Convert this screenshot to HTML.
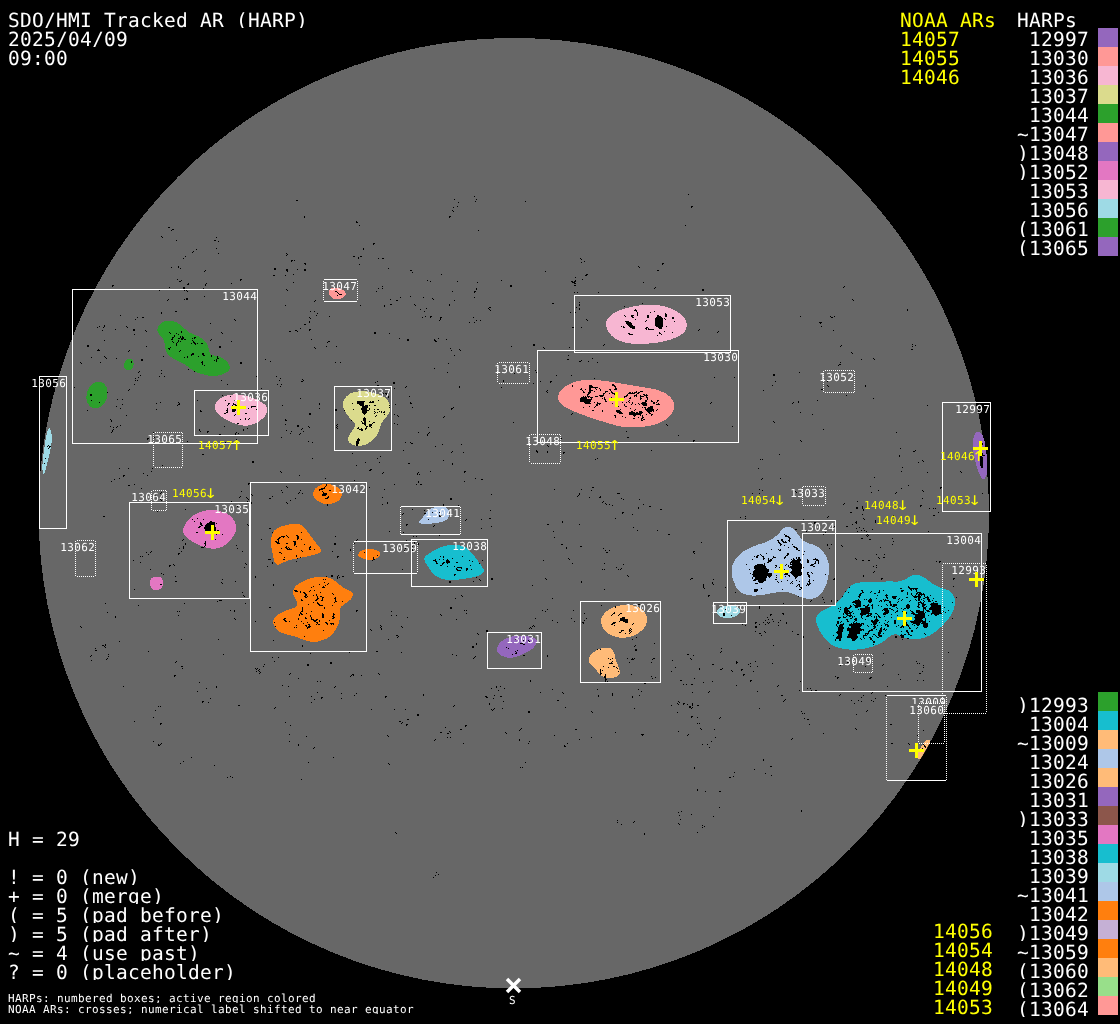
<!DOCTYPE html>
<html lang="en"><head><meta charset="utf-8">
<title>SDO/HMI Tracked AR (HARP) 2025/04/09 09:00</title>
<style>
html,body{margin:0;padding:0;background:#000;}
body{width:1120px;height:1024px;overflow:hidden;}
svg{display:block;}
text{font-family:'DejaVu Sans Mono','Liberation Mono',monospace;white-space:pre;text-rendering:geometricPrecision;}
.b{font-size:19.5px;letter-spacing:0.26px;fill:#fff;}
.s{font-size:11px;letter-spacing:0.378px;fill:#fff;}
.y{fill:#ff0;}
.a{font-family:'DejaVu Sans','Liberation Sans',sans-serif;font-size:13.5px;letter-spacing:0;fill:#ff0;}
.bx{fill:none;stroke:#fff;stroke-width:1;}
.dx{fill:none;stroke:#fff;stroke-width:1;stroke-dasharray:1 1;}
</style></head><body>
<svg width="1120" height="1024" viewBox="0 0 1120 1024">
<rect width="1120" height="1024" fill="#000"/>
<defs><filter id="t" filterUnits="userSpaceOnUse" x="0" y="0" width="1120" height="1024" color-interpolation-filters="sRGB"><feComponentTransfer><feFuncA type="table" tableValues="0 1"/></feComponentTransfer></filter></defs>
<defs><clipPath id="disc"><circle cx="513.8" cy="513.2" r="475.2"/></clipPath></defs>
<circle cx="513.8" cy="513.2" r="475.2" fill="#676767" shape-rendering="crispEdges"/>
<g shape-rendering="crispEdges">
<path fill="#2ca02c" d="M157.3 329.7C157.5 327.7 159.2 324.4 161.1 322.9C163.0 321.4 166.1 321.1 168.7 320.9C171.2 320.8 174.0 321.2 176.3 322.1C178.5 323.1 180.0 324.9 182.3 326.7C184.6 328.5 187.1 331.1 189.9 332.8C192.7 334.4 196.4 335.0 199.0 336.6C201.7 338.1 204.2 339.7 205.9 341.9C207.5 344.0 208.0 347.3 208.9 349.5C209.8 351.6 209.5 353.6 211.2 354.8C212.8 355.9 216.2 355.3 218.8 356.3C221.3 357.3 224.5 359.1 226.3 360.9C228.2 362.6 229.6 365.2 229.8 366.9C230.1 368.7 229.2 370.2 227.9 371.5C226.5 372.7 224.3 373.8 221.8 374.5C219.3 375.3 215.7 376.0 212.7 376.0C209.6 376.0 206.6 375.3 203.6 374.5C200.5 373.8 197.0 372.7 194.5 371.5C191.9 370.2 190.4 368.3 188.4 366.9C186.4 365.5 184.9 364.5 182.3 363.1C179.8 361.7 175.7 360.2 173.2 358.6C170.7 356.9 168.5 355.3 167.1 353.3C165.8 351.2 165.4 348.6 164.9 346.4C164.4 344.3 165.0 342.3 164.1 340.4C163.2 338.5 160.7 336.8 159.6 335.0C158.4 333.3 157.0 331.8 157.3 329.7Z"/>
<path fill="#2ca02c" d="M133.4 365.8C133.2 366.8 132.6 367.8 132.0 368.6C131.4 369.3 130.6 369.9 129.8 370.2C129.0 370.5 128.0 370.6 127.2 370.4C126.5 370.2 125.7 369.7 125.1 369.0C124.6 368.3 124.2 367.4 124.0 366.4C123.8 365.5 123.9 364.3 124.2 363.4C124.4 362.4 125.0 361.4 125.6 360.6C126.2 359.9 127.0 359.3 127.8 359.0C128.6 358.7 129.6 358.6 130.4 358.8C131.1 359.0 131.9 359.5 132.5 360.2C133.0 360.9 133.4 361.8 133.6 362.8C133.8 363.7 133.7 364.9 133.4 365.8Z"/>
<path fill="#2ca02c" d="M106.7 398.2C106.1 400.0 105.1 402.0 103.9 403.5C102.8 404.9 101.2 406.3 99.8 407.1C98.3 407.9 96.6 408.3 95.1 408.3C93.6 408.3 92.0 407.8 90.7 406.9C89.5 406.0 88.4 404.7 87.7 403.1C86.9 401.6 86.5 399.7 86.4 397.8C86.4 395.9 86.7 393.7 87.3 391.8C87.9 390.0 88.9 388.0 90.1 386.5C91.2 385.1 92.8 383.7 94.2 382.9C95.7 382.1 97.4 381.7 98.9 381.7C100.4 381.7 102.0 382.2 103.3 383.1C104.5 384.0 105.6 385.3 106.3 386.9C107.1 388.4 107.5 390.3 107.6 392.2C107.6 394.1 107.3 396.3 106.7 398.2Z"/>
<path fill="#f7b6d2" d="M214.8 407.3C214.8 405.6 215.3 403.4 216.5 401.7C217.8 400.0 219.9 398.4 222.1 397.3C224.4 396.1 227.5 395.3 230.2 394.9C232.9 394.4 235.5 394.3 238.2 394.5C240.9 394.7 243.6 395.4 246.3 396.1C248.9 396.7 251.6 397.4 254.3 398.5C257.0 399.6 260.3 401.2 262.3 402.5C264.3 403.8 265.5 405.3 266.3 406.5C267.2 407.7 267.4 408.3 267.3 409.7C267.2 411.2 266.6 413.6 265.5 415.4C264.4 417.1 262.6 418.8 260.7 420.2C258.8 421.6 256.7 422.9 254.3 423.8C251.9 424.7 248.9 425.7 246.3 425.8C243.6 425.9 240.9 425.3 238.2 424.6C235.5 423.9 232.9 423.1 230.2 421.8C227.5 420.5 224.4 418.6 222.1 417.0C219.9 415.4 217.8 413.8 216.5 412.1C215.3 410.5 214.8 409.1 214.8 407.3Z"/>
<path fill="#9edae5" clip-path="url(#disc)" d="M49.6 428.6C50.3 429.7 51.8 433.2 52.0 436.4C52.2 439.6 51.5 443.6 50.7 448.0C49.9 452.4 48.6 458.6 47.4 463.0C46.2 467.4 44.5 473.8 43.7 474.3C42.9 474.9 42.3 470.4 42.4 466.3C42.5 462.2 43.5 454.7 44.1 449.7C44.7 444.7 45.6 439.7 46.2 436.4C46.8 433.1 47.3 431.1 47.9 429.8C48.5 428.5 48.9 427.5 49.6 428.6Z"/>
<path fill="#ff9896" d="M328.8 292.5C328.6 291.2 329.1 290.0 329.9 289.3C330.6 288.5 331.9 288.2 333.5 288.1C335.0 287.9 337.5 288.0 339.1 288.3C340.7 288.7 342.0 289.3 343.1 290.1C344.3 290.9 345.7 292.4 345.9 293.3C346.2 294.2 345.6 294.8 344.7 295.7C343.9 296.6 342.3 298.0 340.7 298.5C339.1 299.1 336.7 299.4 335.1 299.1C333.5 298.8 332.1 298.0 331.1 296.9C330.0 295.8 329.0 293.8 328.8 292.5Z"/>
<path fill="#dbdb8d" d="M356.5 391.7C358.2 391.5 360.4 390.8 363.1 391.0C365.8 391.2 369.4 392.0 372.6 392.8C375.8 393.6 379.7 394.6 382.1 395.8C384.6 396.9 385.9 398.1 387.3 399.8C388.6 401.4 389.8 403.7 390.2 405.6C390.6 407.6 390.4 409.7 389.8 411.5C389.2 413.3 387.7 415.0 386.5 416.6C385.4 418.2 383.9 419.6 382.9 421.0C381.9 422.5 381.3 423.8 380.7 425.4C380.1 427.0 379.9 428.7 379.2 430.5C378.5 432.4 377.5 434.7 376.3 436.4C375.1 438.1 373.6 439.5 371.9 440.8C370.2 442.1 368.1 443.6 366.0 444.5C363.9 445.3 361.5 445.8 359.4 445.9C357.4 446.1 355.3 445.8 353.6 445.2C351.9 444.6 350.1 443.4 349.2 442.3C348.3 441.2 348.0 440.0 348.1 438.6C348.2 437.3 349.1 435.7 349.9 434.2C350.7 432.7 352.0 431.2 352.8 429.8C353.7 428.5 354.8 427.4 355.0 426.2C355.3 424.9 355.0 423.7 354.3 422.5C353.6 421.3 351.9 420.2 350.6 418.8C349.4 417.5 348.1 416.0 347.0 414.4C345.9 412.8 344.7 411.0 344.0 409.3C343.4 407.6 342.9 405.9 342.9 404.2C343.0 402.5 343.5 400.6 344.4 399.0C345.3 397.5 347.0 395.8 348.4 394.7C349.8 393.6 351.5 392.9 352.8 392.5C354.2 392.0 354.8 392.0 356.5 391.7Z"/>
<path fill="#f7b6d2" d="M606.0 324.5C605.8 322.2 606.5 320.5 607.8 318.6C609.0 316.7 611.2 314.7 613.7 313.2C616.1 311.6 619.1 310.4 622.5 309.2C625.9 308.1 630.4 307.0 634.3 306.3C638.2 305.6 642.2 305.0 646.1 304.8C650.0 304.6 654.3 304.7 657.9 305.1C661.5 305.5 664.6 306.3 667.7 307.3C670.8 308.3 673.9 309.7 676.5 311.2C679.2 312.8 681.7 314.6 683.4 316.6C685.1 318.7 686.5 321.2 686.8 323.5C687.2 325.8 686.4 328.4 685.4 330.4C684.3 332.3 682.8 333.8 680.5 335.3C678.2 336.7 675.1 338.1 671.6 339.2C668.2 340.4 664.1 341.4 659.8 342.2C655.6 342.9 650.3 343.5 646.1 343.8C641.8 344.1 638.1 344.1 634.3 343.8C630.5 343.5 626.8 343.1 623.5 342.2C620.2 341.2 617.1 339.9 614.6 338.2C612.2 336.6 610.2 334.6 608.8 332.3C607.3 330.0 606.2 326.8 606.0 324.5Z"/>
<path fill="#ff9896" d="M557.8 398.9C557.4 396.8 558.3 394.4 559.6 392.3C560.9 390.2 563.3 388.0 565.7 386.3C568.1 384.6 570.9 383.1 574.1 382.1C577.3 381.0 580.9 380.3 585.0 380.0C589.0 379.7 593.6 379.9 598.2 380.2C602.8 380.6 607.9 381.4 612.7 382.1C617.5 382.8 622.3 383.7 627.1 384.5C632.0 385.3 637.0 386.1 641.6 386.9C646.2 387.7 650.9 388.2 654.9 389.3C658.9 390.4 662.8 391.8 665.7 393.5C668.6 395.2 670.9 397.4 672.3 399.5C673.8 401.6 674.3 403.9 674.2 406.2C674.1 408.5 673.2 411.2 671.7 413.4C670.3 415.6 668.3 417.6 665.7 419.4C663.1 421.2 659.7 423.0 656.1 424.2C652.5 425.4 648.0 426.2 644.0 426.7C640.0 427.2 636.0 427.3 632.0 427.3C627.9 427.2 623.9 427.1 619.9 426.4C615.9 425.7 611.9 424.2 607.9 423.0C603.8 421.9 599.8 420.7 595.8 419.4C591.8 418.1 587.8 416.7 583.8 415.2C579.7 413.7 575.3 412.1 571.7 410.4C568.1 408.7 564.4 406.9 562.1 405.0C559.7 403.0 558.2 401.0 557.8 398.9Z"/>
<path fill="#9467bd" d="M977.8 432.0C978.9 432.1 980.9 432.5 982.0 434.1C983.2 435.7 983.8 438.4 984.5 441.4C985.2 444.5 985.8 448.8 986.3 452.4C986.8 456.1 987.2 459.9 987.3 463.4C987.4 466.9 987.3 470.7 986.9 473.2C986.6 475.6 985.8 477.2 985.1 478.1C984.4 479.0 983.6 479.3 982.6 478.7C981.7 478.1 980.6 476.5 979.6 474.4C978.6 472.3 977.5 468.9 976.5 465.9C975.6 462.8 974.7 459.3 974.1 456.1C973.5 452.8 973.0 449.4 972.9 446.3C972.8 443.3 973.1 439.9 973.5 437.8C973.9 435.6 974.6 434.4 975.3 433.5C976.0 432.5 976.6 431.9 977.8 432.0Z"/>
<path fill="#aec7e8" d="M788.1 526.7C789.8 526.8 792.0 527.6 793.7 529.0C795.3 530.3 796.6 532.7 798.1 534.5C799.6 536.4 800.7 538.6 802.6 540.1C804.4 541.6 807.1 542.5 809.3 543.5C811.5 544.4 813.9 544.7 816.0 545.7C818.0 546.7 819.9 547.8 821.6 549.6C823.2 551.4 824.8 553.9 826.0 556.3C827.2 558.7 828.4 561.3 828.8 564.1C829.3 566.9 829.1 570.1 828.8 573.0C828.5 576.0 828.1 579.0 827.1 582.0C826.2 584.9 824.7 588.5 823.2 590.9C821.7 593.3 820.2 595.1 818.2 596.5C816.3 597.8 813.9 598.6 811.5 598.9C809.1 599.2 806.1 598.7 803.7 598.1C801.3 597.6 799.4 596.3 797.0 595.4C794.6 594.4 791.8 593.1 789.2 592.6C786.6 592.0 784.2 591.9 781.4 592.0C778.6 592.1 775.4 592.7 772.5 593.1C769.5 593.6 766.7 594.4 763.5 594.8C760.4 595.2 756.6 595.7 753.5 595.6C750.3 595.5 747.2 595.2 744.6 594.2C741.9 593.3 739.6 591.8 737.9 589.8C736.1 587.7 735.0 584.8 734.0 582.0C732.9 579.2 731.9 576.0 731.7 573.0C731.5 570.1 731.8 566.9 732.8 564.1C733.9 561.3 735.9 558.5 737.9 556.3C739.8 554.1 741.9 552.4 744.6 550.7C747.2 549.0 750.3 547.6 753.5 546.2C756.6 544.9 760.4 544.1 763.5 542.9C766.7 541.7 769.9 540.7 772.5 539.0C775.1 537.3 777.3 534.6 779.2 532.9C781.0 531.1 782.1 529.4 783.6 528.4C785.1 527.4 786.4 526.6 788.1 526.7Z"/>
<path fill="#17becf" d="M917.9 574.7C920.0 575.1 922.6 576.4 925.0 577.9C927.4 579.3 929.5 581.9 932.1 583.6C934.8 585.2 937.9 586.7 940.7 587.9C943.6 589.0 947.0 589.2 949.3 590.7C951.5 592.3 953.3 594.9 954.3 597.1C955.2 599.4 955.4 601.7 955.0 604.3C954.6 606.9 953.6 610.0 952.1 612.9C950.7 615.7 948.6 618.8 946.4 621.4C944.3 624.0 941.9 626.3 939.3 628.6C936.7 630.8 933.8 633.3 930.7 635.0C927.6 636.7 924.0 637.9 920.7 638.6C917.4 639.3 913.8 639.5 910.7 639.3C907.6 639.0 904.5 638.0 902.1 637.1C899.8 636.3 898.3 634.5 896.4 634.3C894.5 634.0 892.9 634.5 890.7 635.7C888.6 636.9 886.2 639.8 883.6 641.4C881.0 643.1 878.1 644.5 875.0 645.7C871.9 646.9 868.6 647.9 865.0 648.6C861.4 649.2 857.4 649.7 853.6 649.7C849.8 649.7 845.7 649.4 842.1 648.6C838.6 647.8 835.2 646.9 832.1 645.0C829.0 643.1 826.0 640.1 823.6 637.1C821.2 634.2 819.1 630.2 817.9 627.1C816.6 624.0 815.9 621.0 816.1 618.6C816.4 616.2 817.6 614.5 819.3 612.9C821.0 611.2 823.8 610.0 826.4 608.6C829.0 607.1 832.4 606.2 835.0 604.3C837.6 602.4 840.0 599.8 842.1 597.1C844.3 594.5 845.7 590.8 847.9 588.6C850.0 586.3 852.1 584.6 855.0 583.6C857.9 582.5 861.4 582.4 865.0 582.1C868.6 581.9 872.6 582.3 876.4 582.1C880.2 582.0 884.0 581.5 887.9 581.4C891.7 581.3 896.2 581.9 899.3 581.4C902.4 581.0 904.3 579.6 906.4 578.6C908.6 577.6 910.2 576.1 912.1 575.4C914.0 574.8 915.7 574.3 917.9 574.7Z"/>
<path fill="#9edae5" d="M717.1 611.1C717.5 610.0 718.4 608.2 720.0 607.3C721.6 606.4 724.0 605.9 726.4 605.7C728.8 605.5 732.3 605.5 734.5 606.0C736.6 606.4 738.3 607.5 739.3 608.4C740.2 609.3 740.4 610.4 740.1 611.6C739.7 612.8 738.5 614.4 737.1 615.4C735.8 616.3 733.7 617.1 731.8 617.5C729.8 617.9 727.3 618.2 725.4 618.0C723.4 617.9 721.3 617.1 720.0 616.4C718.7 615.7 718.1 614.6 717.6 613.7C717.1 612.9 716.7 612.1 717.1 611.1Z"/>
<path fill="#ffbb78" clip-path="url(#disc)" d="M927.6 739.6C928.6 739.4 930.5 740.0 930.5 741.5C930.5 743.0 929.0 745.8 927.5 748.6C926.0 751.4 923.1 756.8 921.5 758.4C919.9 760.0 918.2 759.2 917.6 758.2C917.0 757.2 917.3 754.3 917.8 752.5C918.3 750.7 919.4 749.3 920.5 747.6C921.6 745.9 923.0 743.8 924.2 742.5C925.4 741.2 926.6 739.8 927.6 739.6Z"/>
<path fill="#e377c2" d="M183.0 531.0C182.9 528.9 184.0 526.3 185.4 524.0C186.7 521.7 188.8 519.0 191.2 517.1C193.5 515.1 196.4 513.6 199.3 512.4C202.2 511.3 205.5 510.4 208.6 510.1C211.7 509.8 214.8 510.1 217.9 510.7C221.0 511.3 224.6 512.2 227.1 513.6C229.7 514.9 231.5 516.9 233.0 518.8C234.4 520.7 235.4 523.1 235.9 525.2C236.3 527.2 236.3 529.0 235.9 531.0C235.4 532.9 234.2 534.9 233.0 536.8C231.7 538.7 230.0 540.9 228.3 542.6C226.6 544.2 224.6 545.6 222.5 546.7C220.4 547.7 217.9 548.4 215.5 548.6C213.2 548.9 211.1 548.7 208.6 548.2C206.1 547.6 203.2 546.6 200.4 545.5C197.7 544.4 194.7 542.9 192.3 541.4C189.9 540.0 187.5 538.5 185.9 536.8C184.4 535.0 183.1 533.1 183.0 531.0Z"/>
<path fill="#e377c2" d="M150.0 583.2C149.8 581.7 150.1 580.2 150.8 579.2C151.4 578.1 152.7 577.5 154.0 577.1C155.3 576.7 157.3 576.6 158.7 576.8C160.0 577.1 161.2 577.6 161.9 578.6C162.6 579.5 163.0 581.3 163.1 582.6C163.2 584.0 162.9 585.6 162.4 586.7C161.8 587.8 161.0 588.7 159.8 589.3C158.6 589.8 156.6 590.3 155.2 590.2C153.8 590.0 152.3 589.6 151.5 588.4C150.6 587.3 150.1 584.8 150.0 583.2Z"/>
<path fill="#ff7f0e" d="M312.7 494.0C312.9 492.5 314.1 490.0 315.4 488.5C316.8 487.0 318.7 485.7 320.8 484.9C322.9 484.2 325.7 483.9 328.1 484.0C330.5 484.2 333.2 484.8 335.3 485.8C337.4 486.9 339.6 488.8 340.7 490.3C341.8 491.9 342.4 493.2 342.1 494.9C341.8 496.5 340.6 498.8 338.9 500.3C337.2 501.7 334.1 502.9 331.7 503.5C329.3 504.1 326.7 504.3 324.5 503.9C322.2 503.5 319.8 502.2 318.1 501.2C316.5 500.1 315.4 498.8 314.5 497.6C313.6 496.4 312.6 495.5 312.7 494.0Z"/>
<path fill="#ff7f0e" d="M271.2 538.2C271.6 535.8 272.2 532.9 273.9 531.0C275.5 529.0 278.1 527.6 281.1 526.5C284.1 525.3 288.6 524.4 291.9 524.1C295.3 523.8 298.7 523.8 301.0 524.7C303.2 525.5 303.8 527.2 305.5 529.2C307.1 531.1 309.0 533.8 310.9 536.4C312.9 539.0 315.5 542.3 317.2 544.5C318.9 546.8 320.7 548.5 321.2 549.9C321.7 551.4 321.5 552.1 319.9 553.0C318.4 553.9 315.0 554.6 311.8 555.4C308.7 556.1 304.6 556.9 301.0 557.7C297.4 558.5 293.3 559.0 290.1 559.9C287.0 560.8 284.1 562.3 282.0 563.1C279.9 563.9 278.8 565.0 277.5 564.7C276.2 564.5 275.3 563.7 274.4 561.7C273.6 559.7 273.0 555.4 272.4 552.6C271.9 549.9 271.4 547.8 271.2 545.4C271.0 543.0 270.7 540.6 271.2 538.2Z"/>
<path fill="#ff7f0e" d="M320.8 576.5C323.8 576.5 327.2 576.9 329.9 577.9C332.6 578.9 334.8 580.8 337.1 582.4C339.3 584.1 341.3 586.5 343.4 587.9C345.5 589.2 348.1 589.5 349.7 590.6C351.3 591.6 352.8 592.7 353.0 594.2C353.1 595.7 352.1 597.9 350.6 599.6C349.2 601.2 346.1 602.6 344.3 604.1C342.5 605.6 340.6 606.7 339.8 608.6C339.0 610.6 340.0 613.4 339.8 615.8C339.6 618.3 339.6 620.7 338.9 623.1C338.1 625.5 336.8 628.0 335.3 630.3C333.8 632.5 332.0 635.0 329.9 636.6C327.8 638.3 325.4 639.3 322.6 640.2C319.9 641.1 316.6 642.0 313.6 642.0C310.6 642.0 307.6 641.1 304.6 640.2C301.6 639.3 298.9 637.7 295.6 636.6C292.2 635.6 287.7 635.0 284.7 633.9C281.7 632.8 279.3 631.8 277.5 630.3C275.7 628.8 274.6 626.5 273.9 624.9C273.1 623.2 272.4 622.0 273.0 620.4C273.6 618.7 275.2 616.6 277.5 614.9C279.8 613.3 283.7 611.6 286.5 610.4C289.4 609.2 292.9 608.9 294.7 607.7C296.5 606.5 297.4 604.9 297.4 603.2C297.4 601.5 295.4 599.6 294.7 597.8C293.9 596.0 292.7 594.3 292.9 592.4C293.0 590.4 293.9 587.9 295.6 586.1C297.2 584.2 300.1 582.9 302.8 581.5C305.5 580.2 308.8 578.8 311.8 577.9C314.8 577.1 317.8 576.5 320.8 576.5Z"/>
<path fill="#ff7f0e" d="M358.1 554.9C358.3 553.9 359.5 551.9 361.1 550.9C362.7 549.9 365.5 549.4 367.8 549.1C370.0 548.9 372.6 549.1 374.5 549.6C376.4 550.0 378.1 550.7 379.2 551.6C380.2 552.5 380.8 553.8 380.5 554.9C380.2 556.0 378.8 557.4 377.1 558.3C375.5 559.1 372.7 559.8 370.4 559.9C368.2 560.0 365.5 559.4 363.7 558.9C362.0 558.4 360.7 557.6 359.7 556.9C358.8 556.2 357.9 555.9 358.1 554.9Z"/>
<path fill="#aec7e8" d="M418.7 522.1C418.8 521.0 421.3 519.1 422.7 517.4C424.0 515.7 425.1 513.6 426.7 512.1C428.3 510.5 430.0 508.9 432.0 508.0C434.1 507.1 436.5 506.8 438.7 506.7C441.0 506.6 443.8 506.7 445.4 507.4C447.1 508.0 448.2 509.4 448.8 510.7C449.4 512.1 449.5 514.0 449.2 515.4C448.9 516.9 448.1 518.3 446.8 519.4C445.5 520.5 443.4 521.5 441.4 522.1C439.4 522.7 437.0 522.7 434.7 523.0C432.5 523.4 430.2 524.0 428.0 524.1C425.9 524.2 423.6 524.2 422.0 523.8C420.4 523.5 418.5 523.2 418.7 522.1Z"/>
<path fill="#17becf" d="M424.0 558.9C424.1 557.0 426.0 555.8 428.0 554.2C430.0 552.7 433.4 550.9 436.1 549.6C438.7 548.2 441.4 547.0 444.1 546.2C446.8 545.4 449.5 545.0 452.1 544.9C454.8 544.8 457.7 545.0 460.2 545.5C462.6 546.1 464.9 546.9 466.9 548.2C468.9 549.6 470.4 551.6 472.2 553.6C474.0 555.6 475.8 557.8 477.6 560.3C479.4 562.7 481.9 566.4 482.9 568.3C484.0 570.2 484.5 570.5 484.0 571.6C483.6 572.8 482.2 574.0 480.3 575.0C478.3 576.0 475.1 576.7 472.2 577.4C469.3 578.1 466.2 578.6 462.9 579.0C459.5 579.5 455.3 580.0 452.1 580.1C449.0 580.1 446.6 579.8 444.1 579.3C441.6 578.8 439.4 578.2 437.4 577.0C435.4 575.8 433.7 574.2 432.0 572.3C430.4 570.4 428.7 567.9 427.4 565.6C426.0 563.4 423.9 560.8 424.0 558.9Z"/>
<path fill="#9467bd" d="M497.0 649.3C497.1 647.6 498.1 645.1 499.5 643.3C500.9 641.6 503.0 640.0 505.4 638.8C507.8 637.6 510.8 636.7 513.9 636.2C517.0 635.7 521.0 635.5 524.1 635.7C527.2 635.9 530.5 636.6 532.6 637.4C534.7 638.3 536.4 639.4 536.8 640.8C537.3 642.2 536.4 644.2 535.1 645.9C533.9 647.6 531.6 649.4 529.2 651.0C526.8 652.5 523.5 654.1 520.7 655.2C517.9 656.4 514.9 657.5 512.2 657.8C509.5 658.0 506.9 657.6 504.6 656.9C502.3 656.2 499.9 654.8 498.7 653.5C497.4 652.3 496.8 651.0 497.0 649.3Z"/>
<path fill="#ffbb78" d="M600.8 622.1C600.5 619.6 601.6 617.5 603.0 615.4C604.3 613.2 606.5 611.0 608.9 609.4C611.3 607.9 614.3 606.8 617.4 606.0C620.5 605.3 624.2 604.7 627.6 604.8C631.0 605.0 634.9 605.7 637.8 606.9C640.6 608.1 643.0 610.0 644.5 612.0C646.1 613.9 646.9 616.3 647.1 618.7C647.2 621.2 646.7 624.1 645.4 626.4C644.1 628.6 641.9 630.6 639.5 632.3C637.1 634.0 634.1 635.7 631.0 636.6C627.9 637.5 623.9 637.9 620.8 637.7C617.7 637.6 615.0 636.9 612.3 635.7C609.6 634.5 606.6 632.9 604.7 630.6C602.8 628.4 601.1 624.7 600.8 622.1Z"/>
<path fill="#ffbb78" d="M588.6 660.3C588.8 658.8 589.7 656.1 591.1 654.4C592.5 652.7 594.9 651.2 597.0 650.1C599.2 649.1 601.6 648.2 603.8 647.9C606.1 647.6 608.9 647.6 610.6 648.4C612.3 649.2 613.2 650.8 614.0 652.7C614.9 654.5 615.0 657.2 615.7 659.5C616.4 661.7 617.5 664.1 618.3 666.2C619.0 668.4 620.1 670.5 619.9 672.2C619.8 673.9 619.0 675.4 617.4 676.4C615.8 677.4 612.9 678.0 610.6 678.1C608.4 678.3 605.8 678.1 603.8 677.3C601.9 676.4 600.4 674.7 598.7 673.0C597.0 671.3 595.1 668.6 593.7 667.1C592.2 665.5 590.8 664.8 589.9 663.7C589.1 662.6 588.4 661.9 588.6 660.3Z"/>
</g>
<path fill="#000" shape-rendering="crispEdges" d="M688 194h1v1h-1zM474 196h1v1h-1zM454 199h1v1h-1zM476 199h1v1h-1zM296 200h2v1h-2zM475 201h1v1h-1zM525 201h1v1h-1zM458 202h1v1h-1zM457 206h1v1h-1zM691 206h2v1h-2zM453 207h1v1h-1zM691 207h1v1h-1zM452 210h1v1h-1zM453 211h1v1h-1zM304 216h1v1h-1zM449 216h2v1h-2zM304 217h1v1h-1zM449 217h1v1h-1zM356 221h1v1h-1zM356 222h2v1h-2zM359 225h1v1h-1zM685 225h1v1h-1zM168 227h2v1h-2zM172 229h2v1h-2zM171 230h1v1h-1zM478 230h1v1h-1zM161 236h1v1h-1zM162 237h1v1h-1zM216 237h1v1h-1zM176 240h1v1h-1zM214 240h2v1h-2zM218 241h1v1h-1zM373 243h2v1h-2zM373 244h1v1h-1zM216 248h1v1h-1zM363 248h1v1h-1zM196 249h1v1h-1zM363 249h1v1h-1zM193 251h1v1h-1zM192 252h1v1h-1zM218 253h1v1h-1zM286 253h1v1h-1zM287 254h1v1h-1zM286 255h1v1h-1zM185 256h1v1h-1zM353 256h2v1h-2zM360 256h2v1h-2zM358 257h1v1h-1zM183 258h1v1h-1zM358 258h1v1h-1zM378 258h1v1h-1zM382 258h2v1h-2zM580 258h1v1h-1zM581 259h1v1h-1zM291 260h2v1h-2zM294 260h1v1h-1zM291 261h1v1h-1zM584 261h1v1h-1zM581 262h1v1h-1zM304 263h2v1h-2zM662 263h2v1h-2zM305 264h1v1h-1zM359 264h1v1h-1zM662 264h1v1h-1zM178 266h1v1h-1zM638 266h1v1h-1zM171 267h1v1h-1zM178 267h1v1h-1zM639 267h1v1h-1zM180 268h1v1h-1zM274 268h2v1h-2zM388 268h1v1h-1zM274 269h2v1h-2zM286 269h2v1h-2zM297 269h1v1h-1zM304 269h2v1h-2zM205 270h1v1h-1zM286 270h2v1h-2zM304 270h2v1h-2zM410 270h2v1h-2zM657 270h2v1h-2zM204 271h1v1h-1zM287 271h1v1h-1zM545 271h1v1h-1zM412 272h1v1h-1zM293 274h1v1h-1zM441 274h1v1h-1zM586 274h2v1h-2zM273 275h2v1h-2zM285 275h1v1h-1zM585 275h2v1h-2zM575 277h1v1h-1zM177 279h1v1h-1zM240 279h2v1h-2zM582 279h1v1h-1zM181 280h1v1h-1zM240 280h1v1h-1zM427 280h1v1h-1zM501 280h1v1h-1zM575 280h1v1h-1zM179 281h2v1h-2zM430 281h1v1h-1zM457 281h1v1h-1zM571 281h2v1h-2zM574 281h2v1h-2zM293 282h1v1h-1zM477 282h1v1h-1zM572 282h3v1h-3zM643 282h1v1h-1zM188 283h1v1h-1zM206 283h1v1h-1zM231 283h1v1h-1zM574 283h2v1h-2zM187 284h2v1h-2zM205 284h1v1h-1zM112 285h2v1h-2zM205 285h1v1h-1zM510 285h2v1h-2zM574 285h2v1h-2zM112 286h1v1h-1zM382 286h1v1h-1zM510 286h2v1h-2zM844 286h1v1h-1zM169 287h1v1h-1zM183 287h2v1h-2zM655 287h1v1h-1zM843 287h1v1h-1zM183 288h2v1h-2zM203 288h1v1h-1zM378 288h1v1h-1zM382 288h1v1h-1zM476 288h1v1h-1zM654 288h1v1h-1zM158 289h1v1h-1zM185 289h1v1h-1zM286 289h1v1h-1zM476 289h1v1h-1zM702 289h2v1h-2zM159 290h1v1h-1zM184 290h1v1h-1zM186 290h1v1h-1zM287 290h1v1h-1zM702 290h2v1h-2zM187 291h1v1h-1zM335 291h2v1h-2zM376 291h1v1h-1zM452 291h1v1h-1zM474 291h2v1h-2zM337 292h1v1h-1zM474 292h1v1h-1zM574 292h1v1h-1zM577 292h1v1h-1zM598 292h1v1h-1zM338 293h1v1h-1zM339 294h3v1h-3zM337 295h1v1h-1zM204 296h1v1h-1zM410 296h1v1h-1zM400 297h1v1h-1zM423 297h1v1h-1zM474 297h1v1h-1zM186 298h2v1h-2zM432 298h1v1h-1zM168 299h1v1h-1zM184 299h1v1h-1zM186 299h2v1h-2zM390 299h1v1h-1zM433 299h1v1h-1zM852 299h1v1h-1zM167 300h1v1h-1zM315 300h1v1h-1zM396 300h2v1h-2zM454 300h1v1h-1zM853 300h1v1h-1zM314 301h1v1h-1zM579 302h1v1h-1zM552 303h2v1h-2zM642 303h1v1h-1zM390 304h2v1h-2zM414 304h1v1h-1zM449 304h1v1h-1zM579 304h1v1h-1zM285 305h1v1h-1zM360 305h1v1h-1zM384 305h1v1h-1zM415 305h1v1h-1zM449 305h1v1h-1zM579 305h1v1h-1zM384 306h1v1h-1zM624 306h1v1h-1zM489 307h2v1h-2zM576 307h1v1h-1zM426 308h1v1h-1zM488 308h1v1h-1zM579 308h1v1h-1zM420 309h1v1h-1zM489 309h1v1h-1zM579 309h1v1h-1zM635 309h1v1h-1zM907 309h1v1h-1zM490 310h1v1h-1zM574 310h1v1h-1zM634 310h3v1h-3zM907 310h1v1h-1zM175 311h2v1h-2zM310 311h1v1h-1zM314 311h1v1h-1zM424 311h1v1h-1zM636 311h1v1h-1zM654 311h1v1h-1zM161 312h1v1h-1zM570 312h1v1h-1zM574 312h2v1h-2zM637 312h1v1h-1zM650 312h1v1h-1zM161 313h1v1h-1zM317 313h1v1h-1zM574 313h1v1h-1zM637 313h1v1h-1zM665 313h1v1h-1zM637 314h1v1h-1zM665 314h2v1h-2zM120 315h1v1h-1zM316 315h1v1h-1zM624 315h1v1h-1zM631 315h3v1h-3zM637 315h1v1h-1zM647 315h2v1h-2zM657 315h2v1h-2zM665 315h2v1h-2zM329 316h1v1h-1zM425 316h1v1h-1zM430 316h2v1h-2zM625 316h1v1h-1zM631 316h2v1h-2zM647 316h2v1h-2zM657 316h4v1h-4zM665 316h2v1h-2zM800 316h1v1h-1zM830 316h1v1h-1zM834 316h1v1h-1zM137 317h1v1h-1zM142 317h2v1h-2zM309 317h1v1h-1zM422 317h1v1h-1zM430 317h1v1h-1zM440 317h2v1h-2zM473 317h1v1h-1zM632 317h2v1h-2zM647 317h2v1h-2zM656 317h6v1h-6zM672 317h2v1h-2zM831 317h2v1h-2zM310 318h1v1h-1zM440 318h1v1h-1zM655 318h8v1h-8zM664 318h1v1h-1zM672 318h2v1h-2zM135 319h1v1h-1zM234 319h1v1h-1zM440 319h1v1h-1zM586 319h1v1h-1zM635 319h1v1h-1zM655 319h8v1h-8zM665 319h1v1h-1zM235 320h1v1h-1zM439 320h1v1h-1zM476 320h1v1h-1zM480 320h1v1h-1zM587 320h1v1h-1zM646 320h1v1h-1zM655 320h8v1h-8zM309 321h1v1h-1zM625 321h4v1h-4zM645 321h1v1h-1zM655 321h8v1h-8zM674 321h1v1h-1zM309 322h1v1h-1zM469 322h1v1h-1zM474 322h1v1h-1zM626 322h5v1h-5zM655 322h8v1h-8zM819 322h3v1h-3zM210 323h1v1h-1zM626 323h6v1h-6zM655 323h8v1h-8zM820 323h1v1h-1zM304 324h2v1h-2zM627 324h5v1h-5zM655 324h8v1h-8zM104 325h1v1h-1zM628 325h5v1h-5zM655 325h8v1h-8zM99 326h1v1h-1zM104 326h1v1h-1zM126 326h1v1h-1zM621 326h1v1h-1zM623 326h1v1h-1zM629 326h6v1h-6zM656 326h7v1h-7zM666 326h1v1h-1zM821 326h1v1h-1zM97 327h1v1h-1zM103 327h1v1h-1zM127 327h1v1h-1zM572 327h2v1h-2zM581 327h1v1h-1zM623 327h2v1h-2zM630 327h5v1h-5zM646 327h2v1h-2zM658 327h4v1h-4zM300 328h1v1h-1zM632 328h3v1h-3zM645 328h2v1h-2zM648 328h1v1h-1zM659 328h3v1h-3zM115 329h1v1h-1zM133 329h2v1h-2zM309 329h2v1h-2zM646 329h1v1h-1zM648 329h6v1h-6zM699 329h1v1h-1zM102 330h1v1h-1zM133 330h2v1h-2zM145 330h1v1h-1zM295 330h2v1h-2zM309 330h1v1h-1zM698 330h1v1h-1zM833 330h1v1h-1zM146 331h1v1h-1zM181 331h1v1h-1zM289 331h2v1h-2zM297 331h1v1h-1zM664 331h1v1h-1zM718 331h1v1h-1zM169 332h1v1h-1zM181 332h1v1h-1zM221 332h1v1h-1zM374 332h2v1h-2zM659 332h1v1h-1zM672 332h1v1h-1zM717 332h1v1h-1zM170 333h1v1h-1zM176 333h1v1h-1zM222 333h1v1h-1zM374 333h2v1h-2zM389 333h1v1h-1zM628 333h2v1h-2zM659 333h2v1h-2zM134 334h1v1h-1zM178 334h1v1h-1zM629 334h4v1h-4zM661 334h1v1h-1zM174 335h1v1h-1zM657 335h1v1h-1zM174 336h1v1h-1zM180 336h1v1h-1zM182 336h1v1h-1zM172 337h2v1h-2zM180 337h1v1h-1zM182 337h2v1h-2zM194 337h2v1h-2zM172 338h1v1h-1zM178 338h2v1h-2zM181 338h3v1h-3zM192 338h1v1h-1zM194 338h1v1h-1zM399 338h1v1h-1zM438 338h1v1h-1zM171 339h2v1h-2zM181 339h2v1h-2zM184 339h2v1h-2zM211 339h1v1h-1zM311 339h1v1h-1zM407 339h2v1h-2zM434 339h1v1h-1zM446 339h1v1h-1zM104 340h1v1h-1zM178 340h1v1h-1zM192 340h1v1h-1zM210 340h1v1h-1zM407 340h2v1h-2zM434 340h2v1h-2zM172 341h1v1h-1zM178 341h1v1h-1zM180 341h1v1h-1zM193 341h1v1h-1zM231 341h1v1h-1zM328 341h2v1h-2zM435 341h2v1h-2zM173 342h1v1h-1zM177 342h1v1h-1zM193 342h2v1h-2zM327 342h1v1h-1zM176 343h1v1h-1zM191 343h1v1h-1zM194 343h2v1h-2zM197 343h1v1h-1zM201 343h2v1h-2zM176 344h1v1h-1zM195 344h1v1h-1zM533 344h2v1h-2zM604 344h1v1h-1zM912 344h1v1h-1zM87 345h2v1h-2zM176 345h1v1h-1zM533 345h2v1h-2zM603 345h1v1h-1zM841 345h1v1h-1zM915 345h1v1h-1zM87 346h2v1h-2zM146 346h1v1h-1zM219 346h2v1h-2zM326 346h1v1h-1zM336 346h1v1h-1zM511 346h1v1h-1zM840 346h1v1h-1zM912 346h1v1h-1zM170 347h1v1h-1zM219 347h2v1h-2zM314 347h1v1h-1zM543 347h1v1h-1zM569 347h1v1h-1zM168 348h2v1h-2zM315 348h1v1h-1zM450 348h1v1h-1zM544 348h1v1h-1zM98 349h1v1h-1zM169 349h1v1h-1zM459 349h1v1h-1zM911 349h2v1h-2zM97 350h3v1h-3zM129 350h1v1h-1zM180 350h1v1h-1zM451 350h1v1h-1zM460 350h1v1h-1zM128 351h1v1h-1zM179 351h1v1h-1zM717 352h1v1h-1zM851 352h1v1h-1zM192 353h2v1h-2zM202 353h2v1h-2zM852 353h1v1h-1zM191 354h3v1h-3zM202 354h2v1h-2zM191 355h1v1h-1zM203 355h2v1h-2zM211 355h1v1h-1zM454 355h1v1h-1zM568 355h1v1h-1zM104 356h1v1h-1zM163 356h1v1h-1zM187 356h1v1h-1zM198 356h1v1h-1zM211 356h1v1h-1zM217 356h1v1h-1zM719 356h1v1h-1zM91 357h1v1h-1zM105 357h1v1h-1zM184 357h1v1h-1zM187 357h1v1h-1zM217 357h1v1h-1zM106 358h1v1h-1zM116 358h1v1h-1zM217 358h2v1h-2zM592 358h1v1h-1zM873 358h1v1h-1zM141 359h2v1h-2zM216 359h1v1h-1zM265 359h1v1h-1zM567 359h2v1h-2zM861 359h1v1h-1zM874 359h1v1h-1zM141 360h2v1h-2zM214 360h1v1h-1zM216 360h1v1h-1zM581 360h1v1h-1zM131 361h1v1h-1zM202 361h1v1h-1zM216 361h1v1h-1zM270 361h1v1h-1zM579 361h2v1h-2zM588 361h1v1h-1zM80 362h1v1h-1zM100 362h1v1h-1zM131 362h1v1h-1zM201 362h2v1h-2zM240 362h2v1h-2zM335 362h1v1h-1zM340 362h1v1h-1zM597 362h1v1h-1zM840 362h1v1h-1zM81 363h1v1h-1zM202 363h1v1h-1zM240 363h2v1h-2zM448 363h1v1h-1zM202 364h1v1h-1zM839 364h2v1h-2zM204 365h1v1h-1zM838 365h1v1h-1zM434 368h1v1h-1zM188 369h1v1h-1zM161 370h1v1h-1zM535 370h1v1h-1zM139 371h1v1h-1zM194 371h1v1h-1zM138 372h1v1h-1zM447 372h1v1h-1zM536 372h2v1h-2zM799 372h1v1h-1zM161 373h1v1h-1zM514 373h1v1h-1zM773 374h2v1h-2zM140 375h1v1h-1zM257 375h1v1h-1zM556 375h1v1h-1zM571 375h1v1h-1zM773 375h2v1h-2zM159 376h1v1h-1zM164 376h1v1h-1zM256 376h1v1h-1zM276 376h1v1h-1zM138 377h1v1h-1zM714 377h1v1h-1zM734 377h1v1h-1zM135 378h1v1h-1zM280 378h1v1h-1zM594 378h1v1h-1zM302 379h1v1h-1zM135 380h1v1h-1zM137 380h1v1h-1zM221 380h1v1h-1zM279 380h1v1h-1zM303 380h1v1h-1zM503 380h1v1h-1zM301 381h2v1h-2zM377 381h1v1h-1zM503 381h1v1h-1zM540 381h1v1h-1zM550 381h2v1h-2zM775 381h1v1h-1zM827 381h1v1h-1zM375 382h1v1h-1zM393 382h2v1h-2zM550 382h1v1h-1zM393 383h2v1h-2zM533 383h1v1h-1zM134 384h1v1h-1zM227 384h1v1h-1zM277 384h1v1h-1zM281 384h1v1h-1zM612 384h2v1h-2zM377 385h2v1h-2zM572 385h1v1h-1zM589 385h3v1h-3zM612 385h3v1h-3zM772 385h1v1h-1zM827 385h1v1h-1zM865 385h1v1h-1zM280 386h1v1h-1zM406 386h1v1h-1zM459 386h1v1h-1zM572 386h1v1h-1zM589 386h4v1h-4zM614 386h2v1h-2zM828 386h1v1h-1zM865 386h1v1h-1zM74 387h1v1h-1zM405 387h1v1h-1zM459 387h1v1h-1zM501 387h1v1h-1zM589 387h9v1h-9zM615 387h1v1h-1zM261 388h1v1h-1zM394 388h1v1h-1zM581 388h1v1h-1zM589 388h2v1h-2zM595 388h1v1h-1zM599 388h1v1h-1zM615 388h2v1h-2zM129 389h1v1h-1zM379 389h1v1h-1zM580 389h2v1h-2zM585 389h1v1h-1zM589 389h2v1h-2zM596 389h1v1h-1zM600 389h1v1h-1zM609 389h2v1h-2zM614 389h3v1h-3zM821 389h2v1h-2zM128 390h1v1h-1zM547 390h1v1h-1zM582 390h1v1h-1zM589 390h4v1h-4zM600 390h1v1h-1zM610 390h1v1h-1zM763 390h1v1h-1zM546 391h1v1h-1zM583 391h1v1h-1zM589 391h2v1h-2zM594 391h1v1h-1zM605 391h3v1h-3zM611 391h1v1h-1zM636 391h1v1h-1zM640 391h3v1h-3zM107 392h1v1h-1zM547 392h1v1h-1zM583 392h2v1h-2zM588 392h3v1h-3zM605 392h1v1h-1zM611 392h2v1h-2zM629 392h2v1h-2zM632 392h1v1h-1zM634 392h3v1h-3zM638 392h2v1h-2zM383 393h1v1h-1zM385 393h4v1h-4zM588 393h2v1h-2zM603 393h2v1h-2zM609 393h1v1h-1zM612 393h5v1h-5zM628 393h7v1h-7zM637 393h2v1h-2zM90 394h2v1h-2zM386 394h1v1h-1zM587 394h2v1h-2zM603 394h1v1h-1zM614 394h2v1h-2zM627 394h1v1h-1zM636 394h1v1h-1zM643 394h2v1h-2zM646 394h1v1h-1zM90 395h2v1h-2zM222 395h1v1h-1zM587 395h1v1h-1zM599 395h5v1h-5zM626 395h2v1h-2zM634 395h3v1h-3zM640 395h1v1h-1zM644 395h4v1h-4zM846 395h1v1h-1zM230 396h1v1h-1zM388 396h1v1h-1zM409 396h1v1h-1zM583 396h1v1h-1zM585 396h1v1h-1zM587 396h3v1h-3zM595 396h3v1h-3zM600 396h3v1h-3zM624 396h3v1h-3zM634 396h1v1h-1zM636 396h1v1h-1zM640 396h4v1h-4zM646 396h1v1h-1zM388 397h1v1h-1zM581 397h6v1h-6zM588 397h1v1h-1zM590 397h3v1h-3zM604 397h1v1h-1zM611 397h1v1h-1zM624 397h1v1h-1zM630 397h1v1h-1zM640 397h1v1h-1zM646 397h2v1h-2zM300 398h1v1h-1zM580 398h7v1h-7zM591 398h1v1h-1zM602 398h1v1h-1zM604 398h1v1h-1zM621 398h3v1h-3zM629 398h2v1h-2zM640 398h2v1h-2zM647 398h1v1h-1zM873 398h1v1h-1zM117 399h1v1h-1zM122 399h1v1h-1zM580 399h12v1h-12zM604 399h2v1h-2zM640 399h1v1h-1zM647 399h1v1h-1zM91 400h1v1h-1zM197 400h1v1h-1zM225 400h1v1h-1zM234 400h1v1h-1zM238 400h1v1h-1zM378 400h1v1h-1zM580 400h11v1h-11zM605 400h1v1h-1zM629 400h1v1h-1zM645 400h2v1h-2zM651 400h1v1h-1zM657 400h2v1h-2zM817 400h1v1h-1zM357 401h8v1h-8zM370 401h1v1h-1zM372 401h2v1h-2zM580 401h11v1h-11zM605 401h2v1h-2zM628 401h1v1h-1zM645 401h2v1h-2zM651 401h2v1h-2zM657 401h1v1h-1zM798 401h1v1h-1zM99 402h1v1h-1zM160 402h1v1h-1zM178 402h1v1h-1zM357 402h7v1h-7zM369 402h5v1h-5zM410 402h1v1h-1zM584 402h6v1h-6zM594 402h1v1h-1zM597 402h1v1h-1zM622 402h1v1h-1zM626 402h1v1h-1zM629 402h1v1h-1zM632 402h1v1h-1zM642 402h4v1h-4zM653 402h2v1h-2zM656 402h1v1h-1zM711 402h1v1h-1zM793 402h1v1h-1zM798 402h1v1h-1zM156 403h1v1h-1zM179 403h1v1h-1zM228 403h2v1h-2zM233 403h1v1h-1zM319 403h1v1h-1zM352 403h1v1h-1zM357 403h7v1h-7zM410 403h2v1h-2zM585 403h6v1h-6zM597 403h4v1h-4zM612 403h1v1h-1zM632 403h1v1h-1zM638 403h1v1h-1zM641 403h6v1h-6zM653 403h2v1h-2zM658 403h1v1h-1zM710 403h1v1h-1zM792 403h1v1h-1zM122 404h1v1h-1zM178 404h2v1h-2zM228 404h1v1h-1zM233 404h3v1h-3zM319 404h1v1h-1zM359 404h5v1h-5zM395 404h1v1h-1zM596 404h2v1h-2zM599 404h1v1h-1zM617 404h1v1h-1zM624 404h1v1h-1zM631 404h1v1h-1zM635 404h1v1h-1zM639 404h1v1h-1zM642 404h5v1h-5zM656 404h4v1h-4zM177 405h1v1h-1zM227 405h1v1h-1zM232 405h1v1h-1zM235 405h2v1h-2zM282 405h1v1h-1zM360 405h4v1h-4zM365 405h3v1h-3zM369 405h1v1h-1zM374 405h2v1h-2zM389 405h1v1h-1zM596 405h2v1h-2zM624 405h1v1h-1zM643 405h4v1h-4zM927 405h1v1h-1zM116 406h1v1h-1zM235 406h3v1h-3zM251 406h5v1h-5zM362 406h6v1h-6zM589 406h1v1h-1zM595 406h1v1h-1zM618 406h1v1h-1zM625 406h2v1h-2zM650 406h3v1h-3zM243 407h1v1h-1zM251 407h1v1h-1zM362 407h6v1h-6zM389 407h1v1h-1zM412 407h1v1h-1zM453 407h1v1h-1zM583 407h1v1h-1zM594 407h1v1h-1zM642 407h1v1h-1zM644 407h2v1h-2zM648 407h5v1h-5zM120 408h1v1h-1zM227 408h1v1h-1zM233 408h2v1h-2zM248 408h1v1h-1zM319 408h1v1h-1zM361 408h6v1h-6zM369 408h1v1h-1zM451 408h2v1h-2zM630 408h1v1h-1zM645 408h1v1h-1zM647 408h6v1h-6zM156 409h1v1h-1zM227 409h1v1h-1zM232 409h4v1h-4zM256 409h2v1h-2zM335 409h2v1h-2zM353 409h1v1h-1zM361 409h6v1h-6zM369 409h1v1h-1zM374 409h1v1h-1zM377 409h2v1h-2zM451 409h1v1h-1zM620 409h1v1h-1zM635 409h1v1h-1zM645 409h9v1h-9zM657 409h1v1h-1zM87 410h1v1h-1zM200 410h1v1h-1zM226 410h2v1h-2zM232 410h4v1h-4zM335 410h2v1h-2zM344 410h1v1h-1zM362 410h7v1h-7zM592 410h2v1h-2zM602 410h1v1h-1zM616 410h4v1h-4zM634 410h1v1h-1zM646 410h8v1h-8zM656 410h1v1h-1zM200 411h2v1h-2zM227 411h1v1h-1zM232 411h3v1h-3zM362 411h5v1h-5zM374 411h1v1h-1zM379 411h1v1h-1zM381 411h1v1h-1zM384 411h1v1h-1zM602 411h1v1h-1zM616 411h5v1h-5zM631 411h2v1h-2zM639 411h3v1h-3zM647 411h5v1h-5zM653 411h1v1h-1zM226 412h2v1h-2zM362 412h5v1h-5zM375 412h1v1h-1zM377 412h1v1h-1zM381 412h1v1h-1zM383 412h2v1h-2zM617 412h5v1h-5zM629 412h6v1h-6zM636 412h2v1h-2zM639 412h4v1h-4zM648 412h2v1h-2zM800 412h1v1h-1zM224 413h2v1h-2zM245 413h2v1h-2zM309 413h2v1h-2zM363 413h3v1h-3zM374 413h1v1h-1zM572 413h1v1h-1zM619 413h4v1h-4zM629 413h13v1h-13zM649 413h2v1h-2zM235 414h1v1h-1zM309 414h2v1h-2zM364 414h1v1h-1zM384 414h1v1h-1zM394 414h1v1h-1zM571 414h1v1h-1zM629 414h12v1h-12zM646 414h1v1h-1zM651 414h2v1h-2zM812 414h1v1h-1zM126 415h1v1h-1zM234 415h1v1h-1zM376 415h1v1h-1zM397 415h1v1h-1zM614 415h2v1h-2zM633 415h3v1h-3zM640 415h1v1h-1zM642 415h1v1h-1zM651 415h1v1h-1zM375 416h1v1h-1zM398 416h1v1h-1zM444 416h1v1h-1zM615 416h1v1h-1zM622 416h1v1h-1zM634 416h1v1h-1zM642 416h1v1h-1zM364 417h1v1h-1zM443 417h1v1h-1zM615 417h1v1h-1zM625 417h1v1h-1zM638 417h1v1h-1zM642 417h2v1h-2zM245 418h1v1h-1zM249 418h1v1h-1zM363 418h3v1h-3zM633 418h2v1h-2zM641 418h2v1h-2zM110 419h1v1h-1zM240 419h1v1h-1zM245 419h1v1h-1zM248 419h1v1h-1zM285 419h1v1h-1zM363 419h3v1h-3zM641 419h1v1h-1zM643 419h2v1h-2zM111 420h1v1h-1zM285 420h2v1h-2zM351 420h1v1h-1zM363 420h3v1h-3zM641 420h2v1h-2zM111 421h1v1h-1zM361 421h1v1h-1zM364 421h2v1h-2zM369 421h1v1h-1zM773 421h1v1h-1zM362 422h1v1h-1zM364 422h2v1h-2zM373 422h2v1h-2zM513 422h1v1h-1zM774 422h1v1h-1zM237 423h2v1h-2zM362 423h4v1h-4zM372 423h1v1h-1zM394 423h1v1h-1zM285 424h1v1h-1zM337 424h1v1h-1zM364 424h2v1h-2zM369 424h3v1h-3zM397 424h1v1h-1zM666 424h1v1h-1zM120 425h1v1h-1zM297 425h2v1h-2zM336 425h1v1h-1zM365 425h1v1h-1zM369 425h3v1h-3zM667 425h1v1h-1zM110 426h1v1h-1zM117 426h1v1h-1zM224 426h1v1h-1zM297 426h2v1h-2zM308 426h1v1h-1zM337 426h1v1h-1zM366 426h2v1h-2zM369 426h2v1h-2zM732 426h1v1h-1zM113 427h1v1h-1zM116 427h1v1h-1zM309 427h1v1h-1zM336 427h1v1h-1zM358 427h1v1h-1zM366 427h1v1h-1zM371 427h1v1h-1zM428 427h1v1h-1zM247 428h1v1h-1zM302 428h1v1h-1zM337 428h1v1h-1zM357 428h2v1h-2zM361 428h1v1h-1zM365 428h2v1h-2zM113 429h1v1h-1zM199 429h1v1h-1zM243 429h1v1h-1zM301 429h1v1h-1zM359 429h4v1h-4zM365 429h1v1h-1zM823 429h1v1h-1zM112 430h1v1h-1zM199 430h1v1h-1zM243 430h1v1h-1zM286 430h1v1h-1zM361 430h2v1h-2zM112 431h1v1h-1zM200 431h1v1h-1zM207 431h2v1h-2zM291 431h1v1h-1zM303 431h1v1h-1zM626 431h1v1h-1zM111 432h1v1h-1zM153 432h1v1h-1zM207 432h1v1h-1zM236 432h1v1h-1zM418 432h1v1h-1zM429 432h1v1h-1zM896 432h1v1h-1zM235 433h1v1h-1zM238 433h1v1h-1zM290 433h1v1h-1zM300 433h1v1h-1zM428 433h1v1h-1zM219 434h2v1h-2zM235 434h1v1h-1zM299 434h1v1h-1zM427 434h1v1h-1zM427 435h1v1h-1zM678 435h1v1h-1zM154 437h1v1h-1zM281 437h1v1h-1zM627 437h2v1h-2zM147 438h2v1h-2zM358 438h1v1h-1zM561 438h1v1h-1zM147 439h1v1h-1zM236 439h1v1h-1zM357 439h3v1h-3zM357 440h3v1h-3zM693 440h2v1h-2zM800 440h1v1h-1zM187 441h1v1h-1zM235 441h1v1h-1zM308 441h1v1h-1zM356 441h3v1h-3zM693 441h1v1h-1zM801 441h1v1h-1zM225 442h1v1h-1zM312 442h1v1h-1zM356 442h3v1h-3zM405 442h1v1h-1zM410 442h1v1h-1zM238 443h1v1h-1zM356 443h3v1h-3zM411 443h2v1h-2zM982 443h1v1h-1zM356 444h2v1h-2zM442 444h1v1h-1zM461 444h1v1h-1zM982 444h1v1h-1zM48 445h1v1h-1zM356 445h2v1h-2zM547 445h1v1h-1zM47 446h1v1h-1zM49 446h2v1h-2zM435 446h1v1h-1zM548 446h1v1h-1zM49 447h1v1h-1zM48 448h1v1h-1zM900 448h1v1h-1zM977 449h1v1h-1zM981 449h1v1h-1zM403 450h1v1h-1zM536 450h1v1h-1zM651 450h1v1h-1zM915 450h1v1h-1zM980 450h1v1h-1zM452 451h1v1h-1zM536 451h2v1h-2zM547 451h1v1h-1zM913 451h2v1h-2zM980 451h1v1h-1zM451 452h1v1h-1zM463 452h1v1h-1zM537 452h1v1h-1zM547 452h1v1h-1zM563 452h2v1h-2zM352 453h1v1h-1zM563 453h1v1h-1zM980 453h3v1h-3zM202 454h2v1h-2zM779 454h1v1h-1zM980 454h3v1h-3zM899 455h1v1h-1zM980 455h5v1h-5zM380 456h1v1h-1zM899 456h1v1h-1zM980 456h2v1h-2zM980 457h3v1h-3zM45 458h1v1h-1zM312 458h1v1h-1zM377 458h1v1h-1zM597 458h1v1h-1zM980 458h3v1h-3zM595 459h1v1h-1zM760 459h1v1h-1zM762 459h1v1h-1zM980 459h3v1h-3zM443 460h1v1h-1zM922 460h1v1h-1zM980 460h3v1h-3zM252 461h2v1h-2zM923 461h1v1h-1zM980 461h3v1h-3zM252 462h2v1h-2zM365 462h1v1h-1zM379 462h1v1h-1zM918 462h1v1h-1zM980 462h3v1h-3zM44 463h1v1h-1zM408 463h2v1h-2zM452 463h1v1h-1zM980 463h3v1h-3zM452 464h1v1h-1zM980 464h3v1h-3zM162 465h1v1h-1zM356 465h1v1h-1zM980 465h3v1h-3zM981 466h2v1h-2zM902 467h1v1h-1zM981 467h2v1h-2zM119 468h1v1h-1zM128 468h1v1h-1zM152 468h1v1h-1zM758 468h1v1h-1zM370 469h2v1h-2zM369 470h2v1h-2zM151 471h1v1h-1zM280 471h1v1h-1zM430 471h1v1h-1zM464 471h2v1h-2zM901 471h1v1h-1zM960 471h1v1h-1zM281 472h1v1h-1zM383 472h1v1h-1zM418 472h1v1h-1zM464 472h1v1h-1zM927 472h1v1h-1zM961 472h1v1h-1zM143 473h1v1h-1zM382 473h1v1h-1zM417 473h1v1h-1zM417 474h1v1h-1zM419 474h1v1h-1zM123 475h2v1h-2zM147 475h1v1h-1zM299 475h1v1h-1zM123 476h1v1h-1zM874 477h1v1h-1zM119 478h1v1h-1zM325 478h1v1h-1zM475 478h1v1h-1zM762 478h1v1h-1zM780 478h1v1h-1zM114 479h1v1h-1zM481 479h2v1h-2zM761 479h1v1h-1zM354 480h1v1h-1zM111 481h1v1h-1zM418 481h1v1h-1zM464 481h1v1h-1zM418 482h1v1h-1zM248 483h2v1h-2zM134 484h1v1h-1zM248 484h1v1h-1zM326 484h1v1h-1zM394 484h1v1h-1zM416 484h1v1h-1zM420 484h2v1h-2zM128 485h2v1h-2zM326 485h1v1h-1zM908 485h1v1h-1zM286 486h1v1h-1zM325 486h1v1h-1zM870 486h1v1h-1zM287 487h1v1h-1zM324 487h1v1h-1zM369 487h1v1h-1zM592 487h2v1h-2zM940 487h2v1h-2zM141 488h1v1h-1zM321 488h4v1h-4zM901 488h1v1h-1zM940 488h1v1h-1zM319 489h4v1h-4zM384 489h1v1h-1zM554 489h1v1h-1zM581 489h1v1h-1zM759 489h1v1h-1zM281 490h1v1h-1zM300 490h1v1h-1zM319 490h1v1h-1zM329 490h2v1h-2zM591 490h1v1h-1zM762 490h1v1h-1zM878 490h1v1h-1zM922 490h1v1h-1zM241 491h1v1h-1zM322 491h1v1h-1zM795 491h1v1h-1zM923 491h1v1h-1zM161 492h1v1h-1zM282 492h1v1h-1zM299 492h1v1h-1zM323 492h1v1h-1zM796 492h1v1h-1zM871 492h1v1h-1zM896 492h1v1h-1zM160 493h1v1h-1zM298 493h1v1h-1zM302 493h1v1h-1zM323 493h4v1h-4zM579 493h1v1h-1zM617 493h3v1h-3zM752 493h1v1h-1zM759 493h1v1h-1zM895 493h1v1h-1zM982 493h1v1h-1zM251 494h1v1h-1zM322 494h5v1h-5zM491 494h1v1h-1zM579 494h1v1h-1zM155 495h1v1h-1zM252 495h1v1h-1zM322 495h4v1h-4zM578 495h1v1h-1zM240 496h1v1h-1zM272 496h1v1h-1zM328 496h1v1h-1zM577 496h1v1h-1zM600 496h1v1h-1zM239 497h1v1h-1zM246 497h1v1h-1zM327 497h2v1h-2zM382 497h1v1h-1zM589 497h1v1h-1zM599 497h2v1h-2zM247 498h1v1h-1zM269 498h2v1h-2zM295 498h1v1h-1zM325 498h3v1h-3zM450 498h2v1h-2zM621 498h1v1h-1zM922 498h1v1h-1zM160 499h1v1h-1zM248 499h1v1h-1zM450 499h2v1h-2zM623 499h1v1h-1zM639 499h1v1h-1zM161 500h1v1h-1zM290 500h1v1h-1zM231 501h1v1h-1zM247 501h1v1h-1zM603 501h1v1h-1zM857 501h1v1h-1zM230 502h1v1h-1zM250 502h2v1h-2zM286 502h1v1h-1zM387 502h1v1h-1zM602 502h1v1h-1zM250 503h2v1h-2zM287 503h1v1h-1zM387 503h1v1h-1zM605 503h1v1h-1zM844 503h1v1h-1zM327 504h1v1h-1zM382 504h1v1h-1zM443 504h1v1h-1zM606 504h1v1h-1zM609 504h1v1h-1zM643 504h1v1h-1zM843 504h1v1h-1zM236 505h1v1h-1zM327 505h1v1h-1zM443 505h1v1h-1zM458 505h1v1h-1zM612 505h1v1h-1zM920 505h2v1h-2zM237 506h1v1h-1zM243 506h1v1h-1zM649 506h2v1h-2zM862 506h1v1h-1zM920 506h1v1h-1zM638 507h1v1h-1zM856 507h2v1h-2zM862 507h1v1h-1zM366 508h1v1h-1zM638 508h1v1h-1zM856 508h2v1h-2zM862 508h1v1h-1zM929 508h1v1h-1zM933 508h1v1h-1zM935 508h1v1h-1zM185 509h1v1h-1zM412 509h1v1h-1zM660 509h2v1h-2zM863 509h1v1h-1zM424 510h1v1h-1zM490 510h1v1h-1zM863 510h1v1h-1zM157 511h1v1h-1zM432 512h1v1h-1zM439 512h1v1h-1zM622 512h2v1h-2zM850 512h2v1h-2zM938 512h1v1h-1zM403 513h1v1h-1zM424 513h2v1h-2zM622 513h1v1h-1zM402 514h1v1h-1zM632 514h1v1h-1zM862 514h1v1h-1zM439 515h3v1h-3zM893 515h1v1h-1zM933 515h2v1h-2zM103 516h2v1h-2zM439 516h2v1h-2zM745 516h1v1h-1zM828 516h1v1h-1zM893 516h1v1h-1zM740 517h1v1h-1zM827 517h1v1h-1zM197 518h1v1h-1zM489 518h2v1h-2zM615 518h1v1h-1zM745 518h1v1h-1zM863 518h1v1h-1zM885 518h1v1h-1zM192 519h1v1h-1zM203 519h1v1h-1zM428 519h1v1h-1zM466 519h1v1h-1zM481 519h1v1h-1zM803 519h1v1h-1zM864 519h1v1h-1zM885 519h1v1h-1zM465 520h1v1h-1zM801 520h1v1h-1zM804 520h1v1h-1zM875 520h1v1h-1zM194 521h1v1h-1zM210 521h2v1h-2zM562 521h1v1h-1zM856 521h1v1h-1zM875 521h1v1h-1zM200 522h1v1h-1zM209 522h6v1h-6zM562 522h1v1h-1zM814 522h2v1h-2zM855 522h2v1h-2zM875 522h1v1h-1zM200 523h2v1h-2zM207 523h8v1h-8zM216 523h1v1h-1zM814 523h1v1h-1zM856 523h1v1h-1zM200 524h2v1h-2zM206 524h9v1h-9zM247 524h1v1h-1zM406 524h2v1h-2zM547 524h2v1h-2zM579 524h1v1h-1zM852 524h1v1h-1zM201 525h2v1h-2zM205 525h10v1h-10zM248 525h1v1h-1zM406 525h1v1h-1zM434 525h1v1h-1zM199 526h2v1h-2zM205 526h10v1h-10zM433 526h1v1h-1zM491 526h1v1h-1zM834 526h1v1h-1zM846 526h2v1h-2zM198 527h2v1h-2zM204 527h12v1h-12zM633 527h1v1h-1zM833 527h1v1h-1zM859 527h1v1h-1zM204 528h12v1h-12zM269 528h2v1h-2zM481 528h1v1h-1zM856 528h1v1h-1zM863 528h1v1h-1zM205 529h11v1h-11zM795 529h2v1h-2zM872 529h1v1h-1zM205 530h11v1h-11zM217 530h2v1h-2zM637 530h1v1h-1zM657 530h1v1h-1zM861 530h1v1h-1zM864 530h1v1h-1zM205 531h9v1h-9zM217 531h2v1h-2zM389 531h1v1h-1zM553 531h1v1h-1zM806 531h1v1h-1zM857 531h1v1h-1zM866 531h1v1h-1zM928 531h1v1h-1zM196 532h2v1h-2zM206 532h8v1h-8zM217 532h2v1h-2zM272 532h1v1h-1zM301 532h1v1h-1zM403 532h1v1h-1zM825 532h1v1h-1zM213 533h1v1h-1zM217 533h2v1h-2zM803 533h1v1h-1zM823 533h1v1h-1zM216 534h1v1h-1zM222 534h1v1h-1zM406 534h1v1h-1zM416 534h2v1h-2zM668 534h2v1h-2zM784 534h1v1h-1zM823 534h1v1h-1zM867 534h1v1h-1zM286 535h1v1h-1zM296 535h2v1h-2zM439 535h1v1h-1zM785 535h2v1h-2zM866 535h1v1h-1zM868 535h1v1h-1zM281 536h4v1h-4zM287 536h1v1h-1zM297 536h2v1h-2zM335 536h1v1h-1zM413 536h1v1h-1zM416 536h1v1h-1zM785 536h4v1h-4zM867 536h1v1h-1zM279 537h2v1h-2zM283 537h1v1h-1zM288 537h1v1h-1zM297 537h2v1h-2zM554 537h1v1h-1zM788 537h2v1h-2zM278 538h2v1h-2zM297 538h2v1h-2zM789 538h2v1h-2zM861 538h2v1h-2zM892 538h1v1h-1zM183 539h1v1h-1zM215 539h1v1h-1zM261 539h1v1h-1zM277 539h2v1h-2zM297 539h1v1h-1zM301 539h1v1h-1zM357 539h1v1h-1zM781 539h2v1h-2zM789 539h1v1h-1zM869 539h2v1h-2zM182 540h1v1h-1zM278 540h1v1h-1zM356 540h1v1h-1zM406 540h1v1h-1zM777 540h2v1h-2zM781 540h2v1h-2zM788 540h2v1h-2zM205 541h1v1h-1zM275 541h2v1h-2zM278 541h1v1h-1zM293 541h3v1h-3zM407 541h1v1h-1zM778 541h1v1h-1zM782 541h2v1h-2zM785 541h1v1h-1zM789 541h1v1h-1zM893 541h1v1h-1zM205 542h1v1h-1zM276 542h3v1h-3zM294 542h2v1h-2zM414 542h1v1h-1zM701 542h1v1h-1zM778 542h2v1h-2zM783 542h4v1h-4zM185 543h1v1h-1zM204 543h2v1h-2zM277 543h3v1h-3zM286 543h2v1h-2zM294 543h2v1h-2zM334 543h2v1h-2zM354 543h1v1h-1zM414 543h1v1h-1zM418 543h1v1h-1zM779 543h2v1h-2zM185 544h1v1h-1zM205 544h1v1h-1zM294 544h2v1h-2zM304 544h1v1h-1zM334 544h2v1h-2zM411 544h1v1h-1zM418 544h1v1h-1zM561 544h2v1h-2zM780 544h2v1h-2zM792 544h1v1h-1zM827 544h1v1h-1zM831 544h1v1h-1zM892 544h1v1h-1zM205 545h1v1h-1zM236 545h1v1h-1zM294 545h1v1h-1zM366 545h1v1h-1zM411 545h1v1h-1zM780 545h1v1h-1zM784 545h1v1h-1zM827 545h1v1h-1zM841 545h1v1h-1zM183 546h1v1h-1zM204 546h1v1h-1zM286 546h1v1h-1zM296 546h1v1h-1zM310 546h1v1h-1zM412 546h1v1h-1zM580 546h2v1h-2zM793 546h2v1h-2zM842 546h1v1h-1zM183 547h1v1h-1zM201 547h3v1h-3zM285 547h2v1h-2zM288 547h1v1h-1zM309 547h2v1h-2zM566 547h1v1h-1zM788 547h1v1h-1zM794 547h3v1h-3zM880 547h1v1h-1zM179 548h1v1h-1zM183 548h1v1h-1zM237 548h1v1h-1zM281 548h1v1h-1zM286 548h2v1h-2zM289 548h1v1h-1zM309 548h1v1h-1zM405 548h1v1h-1zM566 548h1v1h-1zM603 548h1v1h-1zM796 548h2v1h-2zM829 548h1v1h-1zM287 549h5v1h-5zM309 549h2v1h-2zM314 549h1v1h-1zM350 549h1v1h-1zM401 549h1v1h-1zM411 549h2v1h-2zM771 549h1v1h-1zM778 549h1v1h-1zM780 549h1v1h-1zM796 549h2v1h-2zM301 550h1v1h-1zM350 550h1v1h-1zM404 550h1v1h-1zM411 550h2v1h-2zM605 550h1v1h-1zM609 550h1v1h-1zM779 550h2v1h-2zM798 550h2v1h-2zM151 551h1v1h-1zM181 551h1v1h-1zM242 551h1v1h-1zM302 551h1v1h-1zM332 551h1v1h-1zM693 551h2v1h-2zM804 551h1v1h-1zM146 552h1v1h-1zM150 552h1v1h-1zM279 552h2v1h-2zM364 552h1v1h-1zM606 552h2v1h-2zM693 552h1v1h-1zM178 553h2v1h-2zM281 553h1v1h-1zM694 553h1v1h-1zM766 553h1v1h-1zM787 553h2v1h-2zM148 554h1v1h-1zM178 554h1v1h-1zM760 554h1v1h-1zM787 554h2v1h-2zM803 554h1v1h-1zM876 554h1v1h-1zM884 554h1v1h-1zM296 555h1v1h-1zM377 555h1v1h-1zM757 555h2v1h-2zM761 555h1v1h-1zM786 555h2v1h-2zM140 556h1v1h-1zM142 556h1v1h-1zM296 556h1v1h-1zM337 556h2v1h-2zM440 556h1v1h-1zM443 556h1v1h-1zM462 556h1v1h-1zM754 556h1v1h-1zM756 556h2v1h-2zM762 556h2v1h-2zM773 556h1v1h-1zM785 556h1v1h-1zM284 557h1v1h-1zM300 557h1v1h-1zM337 557h1v1h-1zM373 557h1v1h-1zM443 557h1v1h-1zM756 557h2v1h-2zM763 557h1v1h-1zM773 557h3v1h-3zM784 557h2v1h-2zM796 557h1v1h-1zM798 557h2v1h-2zM878 557h1v1h-1zM883 557h2v1h-2zM297 558h1v1h-1zM373 558h1v1h-1zM452 558h1v1h-1zM568 558h1v1h-1zM763 558h2v1h-2zM768 558h1v1h-1zM772 558h1v1h-1zM784 558h1v1h-1zM793 558h1v1h-1zM796 558h1v1h-1zM798 558h2v1h-2zM815 558h1v1h-1zM855 558h1v1h-1zM879 558h1v1h-1zM268 559h3v1h-3zM283 559h2v1h-2zM373 559h2v1h-2zM435 559h1v1h-1zM439 559h1v1h-1zM443 559h1v1h-1zM447 559h1v1h-1zM569 559h1v1h-1zM752 559h1v1h-1zM763 559h1v1h-1zM768 559h1v1h-1zM770 559h2v1h-2zM791 559h1v1h-1zM793 559h2v1h-2zM797 559h4v1h-4zM807 559h1v1h-1zM813 559h5v1h-5zM856 559h1v1h-1zM133 560h1v1h-1zM372 560h1v1h-1zM433 560h3v1h-3zM446 560h3v1h-3zM469 560h1v1h-1zM482 560h1v1h-1zM543 560h1v1h-1zM768 560h4v1h-4zM792 560h9v1h-9zM807 560h2v1h-2zM816 560h3v1h-3zM862 560h2v1h-2zM868 560h2v1h-2zM296 561h1v1h-1zM435 561h2v1h-2zM446 561h4v1h-4zM472 561h1v1h-1zM768 561h3v1h-3zM791 561h9v1h-9zM807 561h2v1h-2zM815 561h1v1h-1zM818 561h1v1h-1zM936 561h1v1h-1zM939 561h2v1h-2zM140 562h1v1h-1zM272 562h1v1h-1zM436 562h1v1h-1zM443 562h2v1h-2zM446 562h4v1h-4zM456 562h2v1h-2zM767 562h2v1h-2zM790 562h10v1h-10zM807 562h2v1h-2zM815 562h1v1h-1zM818 562h1v1h-1zM939 562h1v1h-1zM245 563h1v1h-1zM272 563h1v1h-1zM436 563h2v1h-2zM442 563h2v1h-2zM447 563h1v1h-1zM479 563h1v1h-1zM572 563h1v1h-1zM604 563h1v1h-1zM764 563h1v1h-1zM790 563h1v1h-1zM792 563h9v1h-9zM814 563h2v1h-2zM818 563h1v1h-1zM173 564h1v1h-1zM246 564h1v1h-1zM442 564h1v1h-1zM623 564h1v1h-1zM746 564h1v1h-1zM757 564h6v1h-6zM764 564h1v1h-1zM786 564h1v1h-1zM790 564h12v1h-12zM811 564h3v1h-3zM169 565h2v1h-2zM174 565h1v1h-1zM440 565h2v1h-2zM470 565h1v1h-1zM755 565h10v1h-10zM775 565h2v1h-2zM785 565h1v1h-1zM788 565h1v1h-1zM792 565h11v1h-11zM810 565h3v1h-3zM876 565h1v1h-1zM169 566h1v1h-1zM267 566h1v1h-1zM447 566h1v1h-1zM454 566h1v1h-1zM754 566h12v1h-12zM776 566h1v1h-1zM788 566h1v1h-1zM790 566h13v1h-13zM813 566h2v1h-2zM873 566h1v1h-1zM244 567h1v1h-1zM457 567h5v1h-5zM616 567h1v1h-1zM754 567h12v1h-12zM775 567h1v1h-1zM779 567h1v1h-1zM789 567h15v1h-15zM876 567h1v1h-1zM456 568h1v1h-1zM461 568h1v1h-1zM466 568h2v1h-2zM621 568h1v1h-1zM754 568h13v1h-13zM791 568h11v1h-11zM150 569h1v1h-1zM402 569h1v1h-1zM456 569h2v1h-2zM466 569h2v1h-2zM471 569h1v1h-1zM602 569h1v1h-1zM604 569h1v1h-1zM618 569h1v1h-1zM620 569h1v1h-1zM749 569h1v1h-1zM755 569h14v1h-14zM784 569h1v1h-1zM792 569h9v1h-9zM913 569h1v1h-1zM457 570h4v1h-4zM466 570h1v1h-1zM754 570h15v1h-15zM783 570h1v1h-1zM787 570h1v1h-1zM792 570h9v1h-9zM753 571h16v1h-16zM791 571h10v1h-10zM874 571h1v1h-1zM753 572h15v1h-15zM783 572h1v1h-1zM790 572h12v1h-12zM807 572h2v1h-2zM811 572h1v1h-1zM873 572h1v1h-1zM161 573h1v1h-1zM750 573h1v1h-1zM753 573h19v1h-19zM785 573h3v1h-3zM791 573h11v1h-11zM807 573h1v1h-1zM812 573h1v1h-1zM163 574h1v1h-1zM454 574h2v1h-2zM752 574h20v1h-20zM784 574h4v1h-4zM792 574h10v1h-10zM807 574h2v1h-2zM825 574h1v1h-1zM331 575h2v1h-2zM338 575h1v1h-1zM454 575h1v1h-1zM627 575h1v1h-1zM753 575h19v1h-19zM776 575h1v1h-1zM788 575h2v1h-2zM793 575h8v1h-8zM808 575h2v1h-2zM863 575h1v1h-1zM175 576h1v1h-1zM255 576h1v1h-1zM326 576h1v1h-1zM331 576h2v1h-2zM337 576h1v1h-1zM342 576h2v1h-2zM628 576h1v1h-1zM753 576h14v1h-14zM768 576h3v1h-3zM785 576h1v1h-1zM789 576h1v1h-1zM794 576h4v1h-4zM808 576h2v1h-2zM863 576h1v1h-1zM255 577h1v1h-1zM337 577h1v1h-1zM339 577h1v1h-1zM476 577h1v1h-1zM752 577h1v1h-1zM755 577h12v1h-12zM769 577h1v1h-1zM776 577h1v1h-1zM795 577h2v1h-2zM809 577h1v1h-1zM337 578h1v1h-1zM491 578h2v1h-2zM545 578h1v1h-1zM691 578h2v1h-2zM752 578h1v1h-1zM755 578h11v1h-11zM795 578h1v1h-1zM834 578h1v1h-1zM881 578h2v1h-2zM953 578h2v1h-2zM222 579h1v1h-1zM323 579h1v1h-1zM325 579h1v1h-1zM479 579h1v1h-1zM491 579h2v1h-2zM546 579h1v1h-1zM690 579h1v1h-1zM713 579h1v1h-1zM754 579h12v1h-12zM775 579h2v1h-2zM809 579h1v1h-1zM833 579h2v1h-2zM881 579h1v1h-1zM953 579h1v1h-1zM480 580h1v1h-1zM753 580h3v1h-3zM758 580h8v1h-8zM787 580h1v1h-1zM796 580h1v1h-1zM809 580h1v1h-1zM813 580h1v1h-1zM175 581h2v1h-2zM235 581h1v1h-1zM449 581h2v1h-2zM473 581h1v1h-1zM581 581h1v1h-1zM758 581h6v1h-6zM777 581h1v1h-1zM781 581h1v1h-1zM792 581h1v1h-1zM799 581h1v1h-1zM808 581h2v1h-2zM221 582h1v1h-1zM324 582h1v1h-1zM449 582h2v1h-2zM581 582h1v1h-1zM712 582h1v1h-1zM759 582h4v1h-4zM778 582h1v1h-1zM791 582h1v1h-1zM809 582h1v1h-1zM222 583h1v1h-1zM328 583h1v1h-1zM712 583h1v1h-1zM755 583h3v1h-3zM790 583h1v1h-1zM792 583h1v1h-1zM807 583h1v1h-1zM809 583h2v1h-2zM160 584h2v1h-2zM273 584h1v1h-1zM319 584h1v1h-1zM327 584h1v1h-1zM703 584h1v1h-1zM713 584h1v1h-1zM798 584h2v1h-2zM807 584h3v1h-3zM273 585h1v1h-1zM325 585h1v1h-1zM532 585h1v1h-1zM703 585h1v1h-1zM797 585h1v1h-1zM799 585h1v1h-1zM806 585h1v1h-1zM808 585h1v1h-1zM313 586h1v1h-1zM323 586h1v1h-1zM703 586h1v1h-1zM796 586h1v1h-1zM799 586h1v1h-1zM908 586h1v1h-1zM953 586h1v1h-1zM311 587h1v1h-1zM322 587h3v1h-3zM703 587h1v1h-1zM725 587h1v1h-1zM800 587h2v1h-2zM849 587h1v1h-1zM908 587h2v1h-2zM704 588h1v1h-1zM761 588h1v1h-1zM801 588h2v1h-2zM900 588h2v1h-2zM909 588h9v1h-9zM134 589h1v1h-1zM604 589h1v1h-1zM754 589h4v1h-4zM782 589h1v1h-1zM799 589h2v1h-2zM802 589h1v1h-1zM910 589h2v1h-2zM913 589h1v1h-1zM915 589h2v1h-2zM294 590h3v1h-3zM310 590h1v1h-1zM314 590h1v1h-1zM754 590h4v1h-4zM861 590h2v1h-2zM879 590h1v1h-1zM883 590h1v1h-1zM901 590h3v1h-3zM911 590h1v1h-1zM916 590h1v1h-1zM295 591h3v1h-3zM300 591h1v1h-1zM309 591h1v1h-1zM754 591h3v1h-3zM845 591h1v1h-1zM862 591h1v1h-1zM871 591h1v1h-1zM879 591h1v1h-1zM901 591h2v1h-2zM916 591h1v1h-1zM242 592h1v1h-1zM300 592h1v1h-1zM303 592h2v1h-2zM320 592h1v1h-1zM735 592h1v1h-1zM848 592h1v1h-1zM862 592h2v1h-2zM870 592h1v1h-1zM878 592h2v1h-2zM907 592h1v1h-1zM917 592h4v1h-4zM304 593h2v1h-2zM332 593h1v1h-1zM860 593h2v1h-2zM874 593h2v1h-2zM907 593h1v1h-1zM911 593h1v1h-1zM916 593h2v1h-2zM919 593h3v1h-3zM923 593h1v1h-1zM305 594h2v1h-2zM316 594h1v1h-1zM333 594h1v1h-1zM859 594h2v1h-2zM886 594h1v1h-1zM907 594h1v1h-1zM911 594h1v1h-1zM916 594h1v1h-1zM918 594h7v1h-7zM243 595h1v1h-1zM305 595h2v1h-2zM313 595h1v1h-1zM316 595h1v1h-1zM461 595h1v1h-1zM708 595h2v1h-2zM859 595h2v1h-2zM877 595h1v1h-1zM885 595h3v1h-3zM912 595h1v1h-1zM915 595h1v1h-1zM918 595h2v1h-2zM921 595h1v1h-1zM924 595h1v1h-1zM930 595h1v1h-1zM244 596h1v1h-1zM304 596h2v1h-2zM307 596h1v1h-1zM317 596h1v1h-1zM320 596h2v1h-2zM462 596h1v1h-1zM708 596h1v1h-1zM798 596h1v1h-1zM842 596h1v1h-1zM858 596h2v1h-2zM886 596h1v1h-1zM892 596h5v1h-5zM913 596h8v1h-8zM924 596h1v1h-1zM927 596h1v1h-1zM305 597h2v1h-2zM317 597h1v1h-1zM322 597h2v1h-2zM335 597h1v1h-1zM822 597h1v1h-1zM859 597h1v1h-1zM886 597h2v1h-2zM892 597h4v1h-4zM906 597h2v1h-2zM914 597h3v1h-3zM918 597h3v1h-3zM925 597h4v1h-4zM956 597h1v1h-1zM223 598h1v1h-1zM317 598h2v1h-2zM322 598h1v1h-1zM334 598h2v1h-2zM455 598h1v1h-1zM552 598h1v1h-1zM870 598h1v1h-1zM876 598h1v1h-1zM887 598h1v1h-1zM893 598h3v1h-3zM899 598h1v1h-1zM918 598h2v1h-2zM923 598h2v1h-2zM927 598h2v1h-2zM933 598h1v1h-1zM301 599h1v1h-1zM316 599h2v1h-2zM322 599h1v1h-1zM335 599h1v1h-1zM823 599h1v1h-1zM858 599h1v1h-1zM864 599h1v1h-1zM866 599h1v1h-1zM869 599h3v1h-3zM883 599h1v1h-1zM885 599h1v1h-1zM898 599h1v1h-1zM902 599h1v1h-1zM915 599h1v1h-1zM918 599h2v1h-2zM921 599h1v1h-1zM927 599h3v1h-3zM219 600h3v1h-3zM301 600h2v1h-2zM315 600h2v1h-2zM321 600h2v1h-2zM335 600h1v1h-1zM811 600h1v1h-1zM831 600h1v1h-1zM837 600h1v1h-1zM855 600h5v1h-5zM868 600h4v1h-4zM880 600h2v1h-2zM884 600h5v1h-5zM901 600h1v1h-1zM910 600h1v1h-1zM916 600h1v1h-1zM918 600h2v1h-2zM923 600h1v1h-1zM928 600h2v1h-2zM932 600h1v1h-1zM217 601h1v1h-1zM335 601h2v1h-2zM342 601h1v1h-1zM810 601h1v1h-1zM831 601h1v1h-1zM853 601h8v1h-8zM868 601h4v1h-4zM879 601h1v1h-1zM881 601h1v1h-1zM884 601h1v1h-1zM889 601h2v1h-2zM898 601h1v1h-1zM909 601h1v1h-1zM920 601h1v1h-1zM924 601h1v1h-1zM928 601h3v1h-3zM935 601h2v1h-2zM313 602h1v1h-1zM317 602h1v1h-1zM334 602h1v1h-1zM824 602h1v1h-1zM852 602h9v1h-9zM869 602h2v1h-2zM889 602h2v1h-2zM897 602h1v1h-1zM918 602h4v1h-4zM923 602h1v1h-1zM933 602h1v1h-1zM952 602h1v1h-1zM105 603h1v1h-1zM184 603h1v1h-1zM245 603h1v1h-1zM317 603h2v1h-2zM783 603h1v1h-1zM855 603h6v1h-6zM890 603h1v1h-1zM918 603h1v1h-1zM921 603h3v1h-3zM931 603h7v1h-7zM308 604h1v1h-1zM318 604h2v1h-2zM638 604h2v1h-2zM853 604h1v1h-1zM856 604h5v1h-5zM868 604h1v1h-1zM872 604h1v1h-1zM886 604h1v1h-1zM890 604h2v1h-2zM893 604h4v1h-4zM907 604h2v1h-2zM918 604h2v1h-2zM922 604h4v1h-4zM930 604h8v1h-8zM138 605h1v1h-1zM319 605h4v1h-4zM332 605h1v1h-1zM601 605h1v1h-1zM850 605h1v1h-1zM854 605h7v1h-7zM863 605h2v1h-2zM867 605h2v1h-2zM871 605h2v1h-2zM878 605h1v1h-1zM887 605h1v1h-1zM890 605h2v1h-2zM893 605h4v1h-4zM906 605h4v1h-4zM918 605h1v1h-1zM922 605h3v1h-3zM931 605h10v1h-10zM615 606h1v1h-1zM759 606h1v1h-1zM850 606h2v1h-2zM855 606h6v1h-6zM865 606h3v1h-3zM872 606h1v1h-1zM881 606h1v1h-1zM892 606h3v1h-3zM906 606h4v1h-4zM917 606h2v1h-2zM922 606h2v1h-2zM926 606h1v1h-1zM931 606h10v1h-10zM269 607h2v1h-2zM302 607h1v1h-1zM324 607h1v1h-1zM450 607h2v1h-2zM615 607h1v1h-1zM759 607h1v1h-1zM840 607h1v1h-1zM845 607h2v1h-2zM849 607h2v1h-2zM855 607h3v1h-3zM865 607h5v1h-5zM872 607h1v1h-1zM896 607h1v1h-1zM906 607h4v1h-4zM918 607h2v1h-2zM923 607h3v1h-3zM930 607h11v1h-11zM944 607h1v1h-1zM302 608h1v1h-1zM324 608h1v1h-1zM450 608h2v1h-2zM759 608h1v1h-1zM838 608h1v1h-1zM844 608h6v1h-6zM860 608h10v1h-10zM872 608h1v1h-1zM884 608h4v1h-4zM889 608h2v1h-2zM897 608h1v1h-1zM901 608h1v1h-1zM904 608h2v1h-2zM907 608h2v1h-2zM923 608h3v1h-3zM929 608h12v1h-12zM302 609h1v1h-1zM547 609h1v1h-1zM725 609h2v1h-2zM840 609h1v1h-1zM844 609h4v1h-4zM858 609h1v1h-1zM860 609h10v1h-10zM883 609h5v1h-5zM891 609h2v1h-2zM903 609h1v1h-1zM923 609h1v1h-1zM925 609h1v1h-1zM929 609h12v1h-12zM230 610h1v1h-1zM234 610h1v1h-1zM302 610h1v1h-1zM356 610h2v1h-2zM464 610h1v1h-1zM466 610h1v1h-1zM542 610h1v1h-1zM573 610h1v1h-1zM844 610h5v1h-5zM861 610h9v1h-9zM882 610h1v1h-1zM884 610h5v1h-5zM893 610h1v1h-1zM897 610h1v1h-1zM910 610h1v1h-1zM916 610h4v1h-4zM923 610h1v1h-1zM926 610h3v1h-3zM932 610h9v1h-9zM948 610h1v1h-1zM177 611h1v1h-1zM179 611h1v1h-1zM234 611h1v1h-1zM301 611h2v1h-2zM311 611h1v1h-1zM356 611h1v1h-1zM391 611h1v1h-1zM545 611h1v1h-1zM839 611h1v1h-1zM844 611h6v1h-6zM852 611h1v1h-1zM861 611h9v1h-9zM885 611h4v1h-4zM896 611h2v1h-2zM902 611h1v1h-1zM911 611h2v1h-2zM916 611h8v1h-8zM927 611h3v1h-3zM932 611h9v1h-9zM943 611h1v1h-1zM107 612h1v1h-1zM300 612h1v1h-1zM614 612h1v1h-1zM844 612h4v1h-4zM849 612h3v1h-3zM861 612h8v1h-8zM884 612h5v1h-5zM895 612h1v1h-1zM906 612h1v1h-1zM912 612h2v1h-2zM916 612h8v1h-8zM925 612h1v1h-1zM932 612h9v1h-9zM945 612h1v1h-1zM300 613h2v1h-2zM306 613h1v1h-1zM322 613h1v1h-1zM333 613h1v1h-1zM466 613h1v1h-1zM584 613h1v1h-1zM613 613h2v1h-2zM620 613h2v1h-2zM723 613h2v1h-2zM782 613h2v1h-2zM843 613h1v1h-1zM845 613h6v1h-6zM853 613h1v1h-1zM860 613h12v1h-12zM875 613h2v1h-2zM883 613h5v1h-5zM905 613h2v1h-2zM911 613h4v1h-4zM918 613h7v1h-7zM931 613h11v1h-11zM299 614h1v1h-1zM301 614h2v1h-2zM322 614h2v1h-2zM333 614h2v1h-2zM440 614h1v1h-1zM612 614h1v1h-1zM619 614h1v1h-1zM723 614h2v1h-2zM770 614h2v1h-2zM783 614h1v1h-1zM843 614h1v1h-1zM846 614h2v1h-2zM850 614h1v1h-1zM860 614h6v1h-6zM868 614h1v1h-1zM870 614h2v1h-2zM877 614h1v1h-1zM883 614h3v1h-3zM891 614h1v1h-1zM913 614h12v1h-12zM931 614h1v1h-1zM934 614h5v1h-5zM178 615h1v1h-1zM299 615h1v1h-1zM310 615h1v1h-1zM322 615h2v1h-2zM333 615h1v1h-1zM391 615h1v1h-1zM396 615h1v1h-1zM441 615h1v1h-1zM611 615h1v1h-1zM618 615h1v1h-1zM723 615h2v1h-2zM731 615h1v1h-1zM770 615h1v1h-1zM847 615h5v1h-5zM861 615h2v1h-2zM867 615h4v1h-4zM878 615h1v1h-1zM897 615h1v1h-1zM915 615h10v1h-10zM928 615h1v1h-1zM935 615h2v1h-2zM115 616h1v1h-1zM310 616h1v1h-1zM322 616h2v1h-2zM332 616h2v1h-2zM843 616h1v1h-1zM846 616h1v1h-1zM849 616h2v1h-2zM852 616h1v1h-1zM854 616h1v1h-1zM861 616h1v1h-1zM866 616h3v1h-3zM871 616h1v1h-1zM874 616h1v1h-1zM876 616h1v1h-1zM878 616h2v1h-2zM884 616h1v1h-1zM915 616h10v1h-10zM115 617h1v1h-1zM305 617h1v1h-1zM311 617h1v1h-1zM322 617h2v1h-2zM333 617h2v1h-2zM407 617h1v1h-1zM622 617h3v1h-3zM767 617h1v1h-1zM838 617h3v1h-3zM843 617h3v1h-3zM852 617h1v1h-1zM861 617h1v1h-1zM874 617h1v1h-1zM876 617h1v1h-1zM879 617h2v1h-2zM891 617h1v1h-1zM914 617h11v1h-11zM234 618h1v1h-1zM284 618h2v1h-2zM298 618h1v1h-1zM305 618h2v1h-2zM311 618h1v1h-1zM332 618h2v1h-2zM535 618h1v1h-1zM571 618h1v1h-1zM586 618h1v1h-1zM620 618h5v1h-5zM838 618h2v1h-2zM850 618h2v1h-2zM855 618h2v1h-2zM862 618h1v1h-1zM876 618h1v1h-1zM915 618h8v1h-8zM925 618h1v1h-1zM952 618h1v1h-1zM235 619h1v1h-1zM283 619h2v1h-2zM298 619h1v1h-1zM311 619h3v1h-3zM316 619h2v1h-2zM456 619h1v1h-1zM620 619h8v1h-8zM768 619h1v1h-1zM772 619h1v1h-1zM846 619h2v1h-2zM854 619h3v1h-3zM865 619h1v1h-1zM875 619h3v1h-3zM915 619h7v1h-7zM925 619h1v1h-1zM284 620h2v1h-2zM313 620h4v1h-4zM319 620h1v1h-1zM329 620h1v1h-1zM552 620h1v1h-1zM584 620h1v1h-1zM620 620h8v1h-8zM765 620h1v1h-1zM780 620h1v1h-1zM847 620h1v1h-1zM855 620h2v1h-2zM871 620h2v1h-2zM874 620h5v1h-5zM885 620h1v1h-1zM894 620h2v1h-2zM914 620h9v1h-9zM925 620h1v1h-1zM255 621h1v1h-1zM285 621h2v1h-2zM289 621h1v1h-1zM301 621h1v1h-1zM314 621h2v1h-2zM319 621h1v1h-1zM574 621h1v1h-1zM619 621h1v1h-1zM623 621h5v1h-5zM773 621h1v1h-1zM837 621h2v1h-2zM841 621h1v1h-1zM847 621h2v1h-2zM854 621h1v1h-1zM871 621h7v1h-7zM888 621h1v1h-1zM894 621h2v1h-2zM910 621h16v1h-16zM929 621h1v1h-1zM274 622h1v1h-1zM307 622h1v1h-1zM316 622h2v1h-2zM325 622h2v1h-2zM557 622h1v1h-1zM582 622h2v1h-2zM613 622h3v1h-3zM625 622h3v1h-3zM755 622h2v1h-2zM763 622h1v1h-1zM767 622h1v1h-1zM769 622h1v1h-1zM778 622h1v1h-1zM786 622h1v1h-1zM837 622h2v1h-2zM840 622h1v1h-1zM853 622h1v1h-1zM856 622h1v1h-1zM872 622h5v1h-5zM879 622h1v1h-1zM887 622h1v1h-1zM894 622h2v1h-2zM906 622h1v1h-1zM911 622h10v1h-10zM922 622h4v1h-4zM303 623h1v1h-1zM317 623h1v1h-1zM326 623h2v1h-2zM330 623h4v1h-4zM583 623h1v1h-1zM612 623h3v1h-3zM633 623h1v1h-1zM755 623h1v1h-1zM768 623h1v1h-1zM786 623h1v1h-1zM837 623h2v1h-2zM843 623h1v1h-1zM851 623h1v1h-1zM853 623h7v1h-7zM861 623h3v1h-3zM873 623h4v1h-4zM884 623h1v1h-1zM894 623h2v1h-2zM904 623h3v1h-3zM913 623h7v1h-7zM921 623h7v1h-7zM308 624h2v1h-2zM316 624h1v1h-1zM318 624h2v1h-2zM327 624h1v1h-1zM331 624h1v1h-1zM333 624h1v1h-1zM611 624h2v1h-2zM632 624h1v1h-1zM742 624h1v1h-1zM759 624h1v1h-1zM765 624h1v1h-1zM836 624h1v1h-1zM840 624h4v1h-4zM849 624h13v1h-13zM863 624h1v1h-1zM871 624h1v1h-1zM873 624h3v1h-3zM885 624h3v1h-3zM904 624h4v1h-4zM912 624h1v1h-1zM916 624h4v1h-4zM923 624h5v1h-5zM296 625h1v1h-1zM305 625h2v1h-2zM309 625h1v1h-1zM380 625h1v1h-1zM533 625h1v1h-1zM614 625h1v1h-1zM745 625h1v1h-1zM778 625h1v1h-1zM836 625h1v1h-1zM839 625h4v1h-4zM849 625h13v1h-13zM867 625h1v1h-1zM874 625h1v1h-1zM877 625h1v1h-1zM881 625h1v1h-1zM885 625h1v1h-1zM887 625h2v1h-2zM898 625h1v1h-1zM902 625h2v1h-2zM906 625h3v1h-3zM914 625h1v1h-1zM917 625h2v1h-2zM923 625h5v1h-5zM80 626h1v1h-1zM275 626h1v1h-1zM306 626h1v1h-1zM308 626h3v1h-3zM381 626h1v1h-1zM401 626h1v1h-1zM532 626h1v1h-1zM534 626h1v1h-1zM755 626h2v1h-2zM837 626h1v1h-1zM839 626h4v1h-4zM851 626h10v1h-10zM868 626h1v1h-1zM873 626h3v1h-3zM887 626h2v1h-2zM896 626h1v1h-1zM901 626h3v1h-3zM908 626h1v1h-1zM923 626h5v1h-5zM81 627h1v1h-1zM294 627h1v1h-1zM296 627h1v1h-1zM307 627h3v1h-3zM380 627h1v1h-1zM402 627h1v1h-1zM530 627h1v1h-1zM755 627h2v1h-2zM838 627h6v1h-6zM848 627h1v1h-1zM851 627h9v1h-9zM874 627h2v1h-2zM881 627h1v1h-1zM900 627h2v1h-2zM903 627h1v1h-1zM909 627h1v1h-1zM917 627h1v1h-1zM924 627h3v1h-3zM307 628h1v1h-1zM381 628h1v1h-1zM529 628h1v1h-1zM531 628h1v1h-1zM630 628h1v1h-1zM838 628h6v1h-6zM847 628h14v1h-14zM873 628h2v1h-2zM880 628h2v1h-2zM884 628h1v1h-1zM909 628h2v1h-2zM916 628h1v1h-1zM370 629h1v1h-1zM381 629h1v1h-1zM629 629h1v1h-1zM631 629h1v1h-1zM838 629h5v1h-5zM847 629h17v1h-17zM871 629h2v1h-2zM876 629h1v1h-1zM880 629h2v1h-2zM883 629h2v1h-2zM886 629h1v1h-1zM323 630h1v1h-1zM371 630h1v1h-1zM486 630h2v1h-2zM621 630h3v1h-3zM629 630h2v1h-2zM838 630h5v1h-5zM847 630h15v1h-15zM863 630h1v1h-1zM869 630h4v1h-4zM879 630h3v1h-3zM885 630h1v1h-1zM906 630h2v1h-2zM911 630h2v1h-2zM486 631h2v1h-2zM621 631h1v1h-1zM629 631h1v1h-1zM631 631h1v1h-1zM755 631h1v1h-1zM764 631h1v1h-1zM792 631h1v1h-1zM837 631h6v1h-6zM849 631h11v1h-11zM868 631h2v1h-2zM879 631h3v1h-3zM901 631h1v1h-1zM906 631h2v1h-2zM911 631h2v1h-2zM619 632h2v1h-2zM630 632h1v1h-1zM765 632h1v1h-1zM836 632h6v1h-6zM849 632h11v1h-11zM868 632h1v1h-1zM878 632h3v1h-3zM907 632h2v1h-2zM477 633h1v1h-1zM625 633h1v1h-1zM629 633h1v1h-1zM759 633h2v1h-2zM837 633h5v1h-5zM849 633h11v1h-11zM865 633h4v1h-4zM878 633h3v1h-3zM883 633h1v1h-1zM908 633h1v1h-1zM924 633h1v1h-1zM478 634h1v1h-1zM797 634h2v1h-2zM838 634h4v1h-4zM848 634h9v1h-9zM865 634h1v1h-1zM867 634h1v1h-1zM873 634h2v1h-2zM878 634h2v1h-2zM901 634h1v1h-1zM904 634h2v1h-2zM908 634h2v1h-2zM925 634h1v1h-1zM396 635h2v1h-2zM761 635h1v1h-1zM833 635h1v1h-1zM838 635h4v1h-4zM848 635h9v1h-9zM863 635h4v1h-4zM875 635h1v1h-1zM878 635h4v1h-4zM900 635h4v1h-4zM910 635h2v1h-2zM304 636h1v1h-1zM398 636h1v1h-1zM531 636h1v1h-1zM803 636h1v1h-1zM837 636h5v1h-5zM847 636h11v1h-11zM863 636h1v1h-1zM872 636h1v1h-1zM876 636h1v1h-1zM879 636h3v1h-3zM895 636h2v1h-2zM901 636h3v1h-3zM397 637h1v1h-1zM636 637h1v1h-1zM803 637h1v1h-1zM836 637h6v1h-6zM847 637h11v1h-11zM863 637h1v1h-1zM869 637h2v1h-2zM877 637h2v1h-2zM895 637h2v1h-2zM901 637h3v1h-3zM836 638h5v1h-5zM851 638h6v1h-6zM860 638h1v1h-1zM864 638h1v1h-1zM870 638h2v1h-2zM907 638h2v1h-2zM181 639h1v1h-1zM218 639h1v1h-1zM388 639h1v1h-1zM515 639h1v1h-1zM632 639h1v1h-1zM835 639h1v1h-1zM839 639h2v1h-2zM852 639h4v1h-4zM861 639h1v1h-1zM870 639h2v1h-2zM902 639h1v1h-1zM273 640h1v1h-1zM523 640h1v1h-1zM528 640h1v1h-1zM835 640h1v1h-1zM839 640h2v1h-2zM852 640h3v1h-3zM872 640h1v1h-1zM119 641h1v1h-1zM529 641h1v1h-1zM873 641h2v1h-2zM873 642h2v1h-2zM476 643h1v1h-1zM520 643h3v1h-3zM654 643h1v1h-1zM105 644h1v1h-1zM476 644h1v1h-1zM523 644h2v1h-2zM873 644h1v1h-1zM102 645h2v1h-2zM105 645h1v1h-1zM302 645h1v1h-1zM635 645h1v1h-1zM773 645h1v1h-1zM104 646h1v1h-1zM302 646h1v1h-1zM472 646h2v1h-2zM634 646h1v1h-1zM105 647h1v1h-1zM472 647h2v1h-2zM506 647h1v1h-1zM95 648h1v1h-1zM508 648h1v1h-1zM721 648h1v1h-1zM829 648h1v1h-1zM597 649h1v1h-1zM600 649h1v1h-1zM635 649h2v1h-2zM95 650h2v1h-2zM517 650h1v1h-1zM635 650h2v1h-2zM148 651h1v1h-1zM294 651h1v1h-1zM376 651h2v1h-2zM515 651h1v1h-1zM721 651h1v1h-1zM349 652h1v1h-1zM401 652h1v1h-1zM516 652h1v1h-1zM720 652h1v1h-1zM948 652h1v1h-1zM310 653h1v1h-1zM515 653h2v1h-2zM883 653h1v1h-1zM108 654h1v1h-1zM223 654h1v1h-1zM452 654h1v1h-1zM512 654h1v1h-1zM687 654h2v1h-2zM91 655h1v1h-1zM456 655h1v1h-1zM523 655h2v1h-2zM547 655h1v1h-1zM693 655h1v1h-1zM90 656h1v1h-1zM108 656h1v1h-1zM475 656h1v1h-1zM547 656h1v1h-1zM272 657h1v1h-1zM278 657h1v1h-1zM474 657h1v1h-1zM107 658h1v1h-1zM473 658h1v1h-1zM608 658h1v1h-1zM612 658h1v1h-1zM627 658h1v1h-1zM632 658h1v1h-1zM634 658h1v1h-1zM653 658h2v1h-2zM690 658h1v1h-1zM106 659h1v1h-1zM610 659h1v1h-1zM631 659h3v1h-3zM652 659h1v1h-1zM691 659h1v1h-1zM91 660h1v1h-1zM672 660h1v1h-1zM868 660h1v1h-1zM176 661h1v1h-1zM274 661h1v1h-1zM612 661h1v1h-1zM736 661h1v1h-1zM755 661h1v1h-1zM869 661h1v1h-1zM916 661h1v1h-1zM175 662h1v1h-1zM330 662h2v1h-2zM611 662h1v1h-1zM629 662h1v1h-1zM651 662h1v1h-1zM736 662h2v1h-2zM847 662h2v1h-2zM330 663h2v1h-2zM609 663h4v1h-4zM736 663h1v1h-1zM750 663h1v1h-1zM772 663h1v1h-1zM917 663h1v1h-1zM919 663h1v1h-1zM264 664h1v1h-1zM307 664h2v1h-2zM712 664h2v1h-2zM748 664h1v1h-1zM839 664h1v1h-1zM883 664h1v1h-1zM307 665h2v1h-2zM840 665h1v1h-1zM882 665h1v1h-1zM923 665h1v1h-1zM181 666h2v1h-2zM263 666h1v1h-1zM603 666h1v1h-1zM613 666h2v1h-2zM750 666h1v1h-1zM757 666h1v1h-1zM865 666h1v1h-1zM608 667h1v1h-1zM616 667h1v1h-1zM675 667h1v1h-1zM923 667h1v1h-1zM182 668h1v1h-1zM255 668h1v1h-1zM257 668h1v1h-1zM617 668h1v1h-1zM699 668h1v1h-1zM722 668h1v1h-1zM256 669h1v1h-1zM259 669h1v1h-1zM600 669h1v1h-1zM699 669h1v1h-1zM720 669h2v1h-2zM741 669h2v1h-2zM258 670h1v1h-1zM600 670h1v1h-1zM602 670h1v1h-1zM731 670h1v1h-1zM741 670h1v1h-1zM256 671h1v1h-1zM259 671h1v1h-1zM600 671h1v1h-1zM618 671h1v1h-1zM671 671h1v1h-1zM732 671h1v1h-1zM753 671h1v1h-1zM922 671h1v1h-1zM260 672h1v1h-1zM600 672h1v1h-1zM259 673h1v1h-1zM290 673h1v1h-1zM378 673h1v1h-1zM600 673h2v1h-2zM919 673h2v1h-2zM289 674h1v1h-1zM352 674h2v1h-2zM379 674h1v1h-1zM600 674h1v1h-1zM605 674h1v1h-1zM631 674h1v1h-1zM743 674h2v1h-2zM898 674h1v1h-1zM174 675h2v1h-2zM351 675h1v1h-1zM353 675h1v1h-1zM361 675h1v1h-1zM605 675h1v1h-1zM743 675h1v1h-1zM174 676h1v1h-1zM350 676h1v1h-1zM604 676h2v1h-2zM651 676h1v1h-1zM835 676h1v1h-1zM604 677h2v1h-2zM655 677h1v1h-1zM837 677h2v1h-2zM870 677h2v1h-2zM298 678h1v1h-1zM605 678h1v1h-1zM652 678h1v1h-1zM694 678h1v1h-1zM837 678h1v1h-1zM869 678h2v1h-2zM605 679h2v1h-2zM900 679h1v1h-1zM530 680h1v1h-1zM605 680h1v1h-1zM680 680h2v1h-2zM750 680h2v1h-2zM917 680h1v1h-1zM923 680h1v1h-1zM317 681h1v1h-1zM320 681h1v1h-1zM530 681h1v1h-1zM605 681h1v1h-1zM607 681h1v1h-1zM712 681h1v1h-1zM750 681h1v1h-1zM800 681h1v1h-1zM199 682h1v1h-1zM605 682h1v1h-1zM644 682h2v1h-2zM703 682h1v1h-1zM644 683h2v1h-2zM683 684h1v1h-1zM686 684h1v1h-1zM691 684h2v1h-2zM282 685h1v1h-1zM736 685h1v1h-1zM778 685h1v1h-1zM123 686h1v1h-1zM216 686h1v1h-1zM288 686h1v1h-1zM335 686h1v1h-1zM496 686h1v1h-1zM500 686h1v1h-1zM777 686h1v1h-1zM887 686h1v1h-1zM216 687h1v1h-1zM334 687h1v1h-1zM496 687h1v1h-1zM206 688h1v1h-1zM491 688h1v1h-1zM504 688h1v1h-1zM807 688h1v1h-1zM810 688h1v1h-1zM853 688h1v1h-1zM552 689h1v1h-1zM597 689h1v1h-1zM638 689h1v1h-1zM498 690h1v1h-1zM799 690h1v1h-1zM811 690h1v1h-1zM815 690h2v1h-2zM197 691h1v1h-1zM641 691h1v1h-1zM709 691h1v1h-1zM757 691h1v1h-1zM815 691h1v1h-1zM849 691h2v1h-2zM317 692h1v1h-1zM540 692h1v1h-1zM562 692h1v1h-1zM692 692h1v1h-1zM708 692h1v1h-1zM872 692h1v1h-1zM341 693h1v1h-1zM356 693h1v1h-1zM563 693h1v1h-1zM612 693h1v1h-1zM871 693h1v1h-1zM423 694h1v1h-1zM612 694h1v1h-1zM840 694h1v1h-1zM354 695h1v1h-1zM423 695h1v1h-1zM494 695h1v1h-1zM598 695h1v1h-1zM612 695h1v1h-1zM639 695h1v1h-1zM781 695h2v1h-2zM839 695h1v1h-1zM863 695h1v1h-1zM885 695h1v1h-1zM289 696h1v1h-1zM311 696h1v1h-1zM385 696h2v1h-2zM485 696h2v1h-2zM500 696h2v1h-2zM598 696h1v1h-1zM632 696h1v1h-1zM321 697h2v1h-2zM385 697h1v1h-1zM486 697h2v1h-2zM632 697h1v1h-1zM861 697h1v1h-1zM210 698h1v1h-1zM321 698h1v1h-1zM341 698h1v1h-1zM493 698h1v1h-1zM875 698h1v1h-1zM314 699h1v1h-1zM785 699h1v1h-1zM557 700h2v1h-2zM784 700h1v1h-1zM851 700h1v1h-1zM858 700h1v1h-1zM871 700h1v1h-1zM202 701h2v1h-2zM503 701h1v1h-1zM678 701h1v1h-1zM783 701h1v1h-1zM861 701h1v1h-1zM873 701h1v1h-1zM202 702h1v1h-1zM208 702h1v1h-1zM311 702h1v1h-1zM679 702h1v1h-1zM489 703h1v1h-1zM677 703h1v1h-1zM683 703h2v1h-2zM692 703h1v1h-1zM854 703h1v1h-1zM489 704h1v1h-1zM678 704h1v1h-1zM683 704h1v1h-1zM687 704h1v1h-1zM692 704h1v1h-1zM238 705h2v1h-2zM454 705h1v1h-1zM671 705h1v1h-1zM692 705h1v1h-1zM697 705h2v1h-2zM158 706h1v1h-1zM160 706h1v1h-1zM453 706h1v1h-1zM689 706h2v1h-2zM275 707h1v1h-1zM565 707h1v1h-1zM689 707h2v1h-2zM692 707h1v1h-1zM274 708h1v1h-1zM494 708h1v1h-1zM502 708h1v1h-1zM634 708h1v1h-1zM691 708h1v1h-1zM759 708h1v1h-1zM371 709h1v1h-1zM394 709h1v1h-1zM405 709h1v1h-1zM491 709h1v1h-1zM493 709h1v1h-1zM155 710h1v1h-1zM492 710h1v1h-1zM867 710h1v1h-1zM528 711h2v1h-2zM591 711h1v1h-1zM801 711h1v1h-1zM866 711h1v1h-1zM528 712h2v1h-2zM592 712h1v1h-1zM677 712h1v1h-1zM802 713h1v1h-1zM804 713h1v1h-1zM417 714h2v1h-2zM856 714h1v1h-1zM417 715h2v1h-2zM691 716h2v1h-2zM153 717h1v1h-1zM691 717h1v1h-1zM697 717h1v1h-1zM720 717h1v1h-1zM719 718h1v1h-1zM804 718h1v1h-1zM407 719h2v1h-2zM807 719h2v1h-2zM134 721h1v1h-1zM399 721h2v1h-2zM285 722h1v1h-1zM402 722h1v1h-1zM160 723h2v1h-2zM401 723h1v1h-1zM697 723h1v1h-1zM699 723h1v1h-1zM160 724h1v1h-1zM406 724h2v1h-2zM809 724h1v1h-1zM890 724h2v1h-2zM290 725h1v1h-1zM406 725h1v1h-1zM465 725h2v1h-2zM465 726h1v1h-1zM445 727h1v1h-1zM521 728h1v1h-1zM700 728h1v1h-1zM855 728h1v1h-1zM460 729h2v1h-2zM520 729h1v1h-1zM575 729h2v1h-2zM701 729h1v1h-1zM714 729h1v1h-1zM856 729h1v1h-1zM519 730h1v1h-1zM923 730h1v1h-1zM449 731h1v1h-1zM678 731h1v1h-1zM440 732h2v1h-2zM450 732h1v1h-1zM505 732h1v1h-1zM615 732h1v1h-1zM447 733h2v1h-2zM506 733h1v1h-1zM823 733h1v1h-1zM289 734h1v1h-1zM641 734h3v1h-3zM688 734h1v1h-1zM387 735h1v1h-1zM554 735h1v1h-1zM642 735h1v1h-1zM687 735h1v1h-1zM917 735h1v1h-1zM306 736h1v1h-1zM388 736h1v1h-1zM447 737h1v1h-1zM450 737h1v1h-1zM591 737h1v1h-1zM715 737h1v1h-1zM792 738h1v1h-1zM435 739h1v1h-1zM519 739h1v1h-1zM579 739h1v1h-1zM791 739h1v1h-1zM434 740h1v1h-1zM519 740h1v1h-1zM153 741h1v1h-1zM289 741h1v1h-1zM529 741h1v1h-1zM711 741h1v1h-1zM161 743h1v1h-1zM463 743h1v1h-1zM528 743h1v1h-1zM567 743h1v1h-1zM891 743h2v1h-2zM908 743h1v1h-1zM158 744h1v1h-1zM160 744h1v1h-1zM298 744h1v1h-1zM702 744h1v1h-1zM707 744h1v1h-1zM909 744h1v1h-1zM923 744h1v1h-1zM158 745h2v1h-2zM298 745h1v1h-1zM564 745h1v1h-1zM924 745h1v1h-1zM564 746h2v1h-2zM924 746h2v1h-2zM314 747h1v1h-1zM709 747h1v1h-1zM925 747h1v1h-1zM313 748h1v1h-1zM922 748h1v1h-1zM923 749h1v1h-1zM191 757h1v1h-1zM333 757h1v1h-1zM763 759h1v1h-1zM763 760h1v1h-1zM183 761h1v1h-1zM308 762h1v1h-1zM525 762h1v1h-1zM180 763h1v1h-1zM388 763h1v1h-1zM389 764h1v1h-1zM214 765h1v1h-1zM770 766h2v1h-2zM520 767h1v1h-1zM522 767h1v1h-1zM694 767h1v1h-1zM694 768h1v1h-1zM754 769h1v1h-1zM734 772h1v1h-1zM765 773h1v1h-1zM771 775h1v1h-1zM230 776h1v1h-1zM733 776h1v1h-1zM227 777h1v1h-1zM232 777h1v1h-1zM729 777h2v1h-2zM301 779h1v1h-1zM697 789h1v1h-1zM697 790h1v1h-1zM705 791h1v1h-1zM719 791h2v1h-2zM719 807h1v1h-1zM801 810h1v1h-1zM681 811h1v1h-1zM801 811h1v1h-1zM678 812h1v1h-1zM691 814h1v1h-1zM679 815h1v1h-1zM713 816h1v1h-1zM680 819h1v1h-1zM617 820h1v1h-1zM634 821h1v1h-1zM617 822h1v1h-1zM633 822h1v1h-1zM678 823h1v1h-1zM621 824h1v1h-1zM679 824h1v1h-1zM702 825h1v1h-1zM704 826h1v1h-1zM702 827h1v1h-1zM395 832h1v1h-1zM697 832h1v1h-1zM396 833h1v1h-1zM644 833h1v1h-1zM644 834h1v1h-1zM436 872h1v1h-1zM438 874h1v1h-1zM435 875h1v1h-1zM433 877h1v1h-1z"/>
<g shape-rendering="crispEdges">
<rect class="bx" x="72.5" y="289.5" width="185" height="154"/>
<rect class="bx" x="194.5" y="390.5" width="74" height="45"/>
<rect class="bx" x="39.5" y="376.5" width="27" height="152"/>
<path class="dx" d="M155 432.5H182 M155 467.5H182 M153.5 433V467 M182.5 433V467"/>
<path class="dx" d="M153 490.5H166 M153 510.5H166 M151.5 491V510 M166.5 491V510"/>
<rect class="bx" x="129.5" y="502.5" width="120" height="96"/>
<rect class="bx" x="250.5" y="482.5" width="116" height="169"/>
<path class="dx" d="M77 540.5H95 M77 576.5H95 M75.5 541V576 M95.5 541V576"/>
<path class="bx" d="M324 279.5H357 M324 301.5H357"/>
<path class="dx" d="M323.5 281V301 M357.5 281V301"/>
<rect class="bx" x="334.5" y="386.5" width="57" height="64"/>
<path class="dx" d="M499 362.5H529 M499 383.5H529 M497.5 363V383 M529.5 363V383"/>
<path class="dx" d="M531 434.5H560 M531 463.5H560 M529.5 435V463 M560.5 435V463"/>
<rect class="bx" x="537.5" y="350.5" width="201" height="92"/>
<rect class="bx" x="574.5" y="295.5" width="156" height="57"/>
<path class="dx" d="M825 370.5H854 M825 392.5H854 M823.5 371V392 M854.5 371V392"/>
<rect class="bx" x="942.5" y="402.5" width="48" height="109"/>
<path class="dx" d="M803 486.5H825 M803 505.5H825 M802.5 487V505 M825.5 487V505"/>
<rect class="bx" x="727.5" y="520.5" width="108" height="85"/>
<rect class="bx" x="802.5" y="533.5" width="179" height="158"/>
<path class="dx" d="M943 563.5H986 M943 713.5H986 M942.5 565V713 M986.5 565V713"/>
<rect class="bx" x="713.5" y="602.5" width="33" height="21"/>
<path class="dx" d="M855 654.5H872 M855 672.5H872 M853.5 655V672 M872.5 655V672"/>
<path class="bx" d="M887 695.5H946 M887 780.5H946"/>
<path class="dx" d="M886.5 697V780 M946.5 697V780"/>
<path class="dx" d="M919 703.5H944 M919 743.5H944 M918.5 705V743 M944.5 705V743"/>
<path class="bx" d="M354 541.5H417 M354 573.5H417"/>
<path class="dx" d="M353.5 543V573 M417.5 543V573"/>
<path class="bx" d="M401 506.5H460 M401 534.5H460"/>
<path class="dx" d="M400.5 507V534 M460.5 507V534"/>
<rect class="bx" x="411.5" y="539.5" width="76" height="47"/>
<rect class="bx" x="487.5" y="632.5" width="54" height="36"/>
<rect class="bx" x="580.5" y="601.5" width="80" height="81"/>
</g>
<g filter="url(#t)">
<g class="s g">
<text x="222.2" y="300">13044</text>
<text x="233.2" y="401">13036</text>
<text x="31.2" y="387">13056</text>
<text x="147.2" y="443">13065</text>
<text x="131.2" y="501">13064</text>
<text x="214.2" y="513">13035</text>
<text x="331.2" y="493">13042</text>
<text x="60.2" y="551">13062</text>
<text x="322.2" y="290">13047</text>
<text x="356.2" y="397">13037</text>
<text x="494.2" y="373">13061</text>
<text x="525.2" y="445">13048</text>
<text x="703.2" y="361">13030</text>
<text x="695.2" y="306">13053</text>
<text x="819.2" y="381">13052</text>
<text x="955.2" y="413">12997</text>
<text x="790.2" y="497">13033</text>
<text x="800.2" y="531">13024</text>
<text x="946.2" y="544">13004</text>
<text x="951.2" y="574">12993</text>
<text x="711.2" y="613">13039</text>
<text x="837.2" y="665">13049</text>
<svg x="911.2" y="695" width="40" height="9"><text x="0" y="11">13009</text></svg>
<text x="909.2" y="714">13060</text>
<text x="382.2" y="552">13059</text>
<text x="425.2" y="517">13041</text>
<text x="452.2" y="550">13038</text>
<text x="506.2" y="643">13031</text>
<text x="625.2" y="612">13026</text>
</g>
<g fill="#ff0" shape-rendering="crispEdges">
<path d="M231 406h15v3h-15zM237 400h3v15h-3z"/>
<path d="M609 398h15v3h-15zM615 392h3v15h-3z"/>
<path d="M973 447h15v3h-15zM979 441h3v15h-3z"/>
<path d="M205 531h15v3h-15zM211 525h3v15h-3z"/>
<path d="M774 570h15v3h-15zM780 564h3v15h-3z"/>
<path d="M897 617h15v3h-15zM903 611h3v15h-3z"/>
<path d="M969 578h15v3h-15zM975 572h3v15h-3z"/>
<path d="M909 749h15v3h-15zM915 743h3v15h-3z"/>
</g>
<g class="s y g">
<text x="198" y="449">14057</text><text class="a" transform="translate(229.63 450) scale(1.22 1)">↑</text>
<text x="172" y="497">14056</text><text class="a" transform="translate(203.63 498) scale(1.22 1)">↓</text>
<text x="576" y="449">14055</text><text class="a" transform="translate(607.63 450) scale(1.22 1)">↑</text>
<text x="741" y="504">14054</text><text class="a" transform="translate(772.63 505) scale(1.22 1)">↓</text>
<text x="940" y="460">14046</text><text class="a" transform="translate(971.63 461) scale(1.22 1)">↑</text>
<text x="936" y="504">14053</text><text class="a" transform="translate(967.63 505) scale(1.22 1)">↓</text>
<text x="864" y="509">14048</text><text class="a" transform="translate(895.63 510) scale(1.22 1)">↓</text>
<text x="876" y="524">14049</text><text class="a" transform="translate(907.63 525) scale(1.22 1)">↓</text>
</g>
<path d="M507 979L520 992M520 979L507 992" stroke="#fff" stroke-width="3.5" fill="none"/>
<text class="s" x="509" y="1004">S</text>
<svg x="8" y="9" width="304" height="19"><text class="b" x="0" y="18">SDO/HMI Tracked AR (HARP)</text></svg>
<svg x="8" y="28" width="124" height="19"><text class="b" x="0" y="18">2025/04/09</text></svg>
<svg x="8" y="47" width="64" height="19"><text class="b" x="0" y="18">09:00</text></svg>
<svg x="8" y="828" width="76" height="19"><text class="b" x="0" y="18">H = 29</text></svg>
<svg x="8" y="866" width="136" height="19"><text class="b" x="0" y="18">! = 0 (new)</text></svg>
<svg x="8" y="885" width="160" height="19"><text class="b" x="0" y="18">+ = 0 (merge)</text></svg>
<svg x="8" y="904" width="220" height="19"><text class="b" x="0" y="18">( = 5 (pad before)</text></svg>
<svg x="8" y="923" width="208" height="19"><text class="b" x="0" y="18">) = 5 (pad after)</text></svg>
<svg x="8" y="942" width="196" height="19"><text class="b" x="0" y="18">~ = 4 (use past)</text></svg>
<svg x="8" y="961" width="232" height="19"><text class="b" x="0" y="18">? = 0 (placeholder)</text></svg>
<svg x="8" y="992" width="312" height="11"><text class="s" x="0" y="10">HARPs: numbered boxes; active region colored</text></svg>
<svg x="8" y="1003" width="410" height="11"><text class="s" x="0" y="10">NOAA ARs: crosses; numerical label shifted to near equator</text></svg>
<svg x="900" y="9" width="100" height="19"><text class="b y" x="0" y="18">NOAA ARs</text></svg>
<svg x="1017" y="9" width="64" height="19"><text class="b" x="0" y="18">HARPs</text></svg>
<svg x="900" y="28" width="64" height="19"><text class="b y" x="0" y="18">14057</text></svg>
<svg x="900" y="47" width="64" height="19"><text class="b y" x="0" y="18">14055</text></svg>
<svg x="900" y="66" width="64" height="19"><text class="b y" x="0" y="18">14046</text></svg>
<svg x="1017" y="28" width="76" height="19"><text class="b" x="0" y="18"> 12997</text></svg>
<rect x="1098" y="28" width="20" height="19" fill="#9467bd" shape-rendering="crispEdges"/>
<svg x="1017" y="47" width="76" height="19"><text class="b" x="0" y="18"> 13030</text></svg>
<rect x="1098" y="47" width="20" height="19" fill="#ff9896" shape-rendering="crispEdges"/>
<svg x="1017" y="66" width="76" height="19"><text class="b" x="0" y="18"> 13036</text></svg>
<rect x="1098" y="66" width="20" height="19" fill="#f7b6d2" shape-rendering="crispEdges"/>
<svg x="1017" y="85" width="76" height="19"><text class="b" x="0" y="18"> 13037</text></svg>
<rect x="1098" y="85" width="20" height="19" fill="#dbdb8d" shape-rendering="crispEdges"/>
<svg x="1017" y="104" width="76" height="19"><text class="b" x="0" y="18"> 13044</text></svg>
<rect x="1098" y="104" width="20" height="19" fill="#2ca02c" shape-rendering="crispEdges"/>
<svg x="1017" y="123" width="76" height="19"><text class="b" x="0" y="18">~13047</text></svg>
<rect x="1098" y="123" width="20" height="19" fill="#ff9896" shape-rendering="crispEdges"/>
<svg x="1017" y="142" width="76" height="19"><text class="b" x="0" y="18">)13048</text></svg>
<rect x="1098" y="142" width="20" height="19" fill="#9467bd" shape-rendering="crispEdges"/>
<svg x="1017" y="161" width="76" height="19"><text class="b" x="0" y="18">)13052</text></svg>
<rect x="1098" y="161" width="20" height="19" fill="#e377c2" shape-rendering="crispEdges"/>
<svg x="1017" y="180" width="76" height="19"><text class="b" x="0" y="18"> 13053</text></svg>
<rect x="1098" y="180" width="20" height="19" fill="#f7b6d2" shape-rendering="crispEdges"/>
<svg x="1017" y="199" width="76" height="19"><text class="b" x="0" y="18"> 13056</text></svg>
<rect x="1098" y="199" width="20" height="19" fill="#9edae5" shape-rendering="crispEdges"/>
<svg x="1017" y="218" width="76" height="19"><text class="b" x="0" y="18">(13061</text></svg>
<rect x="1098" y="218" width="20" height="19" fill="#2ca02c" shape-rendering="crispEdges"/>
<svg x="1017" y="237" width="76" height="19"><text class="b" x="0" y="18">(13065</text></svg>
<rect x="1098" y="237" width="20" height="19" fill="#9467bd" shape-rendering="crispEdges"/>
<svg x="1017" y="694" width="76" height="19"><text class="b" x="0" y="18">)12993</text></svg>
<rect x="1098" y="692" width="20" height="19" fill="#2ca02c" shape-rendering="crispEdges"/>
<svg x="1017" y="713" width="76" height="19"><text class="b" x="0" y="18"> 13004</text></svg>
<rect x="1098" y="711" width="20" height="19" fill="#17becf" shape-rendering="crispEdges"/>
<svg x="1017" y="732" width="76" height="19"><text class="b" x="0" y="18">~13009</text></svg>
<rect x="1098" y="730" width="20" height="19" fill="#ffbb78" shape-rendering="crispEdges"/>
<svg x="1017" y="751" width="76" height="19"><text class="b" x="0" y="18"> 13024</text></svg>
<rect x="1098" y="749" width="20" height="19" fill="#aec7e8" shape-rendering="crispEdges"/>
<svg x="1017" y="770" width="76" height="19"><text class="b" x="0" y="18"> 13026</text></svg>
<rect x="1098" y="768" width="20" height="19" fill="#ffbb78" shape-rendering="crispEdges"/>
<svg x="1017" y="789" width="76" height="19"><text class="b" x="0" y="18"> 13031</text></svg>
<rect x="1098" y="787" width="20" height="19" fill="#9467bd" shape-rendering="crispEdges"/>
<svg x="1017" y="808" width="76" height="19"><text class="b" x="0" y="18">)13033</text></svg>
<rect x="1098" y="806" width="20" height="19" fill="#8c564b" shape-rendering="crispEdges"/>
<svg x="1017" y="827" width="76" height="19"><text class="b" x="0" y="18"> 13035</text></svg>
<rect x="1098" y="825" width="20" height="19" fill="#e377c2" shape-rendering="crispEdges"/>
<svg x="1017" y="846" width="76" height="19"><text class="b" x="0" y="18"> 13038</text></svg>
<rect x="1098" y="844" width="20" height="19" fill="#17becf" shape-rendering="crispEdges"/>
<svg x="1017" y="865" width="76" height="19"><text class="b" x="0" y="18"> 13039</text></svg>
<rect x="1098" y="863" width="20" height="19" fill="#9edae5" shape-rendering="crispEdges"/>
<svg x="1017" y="884" width="76" height="19"><text class="b" x="0" y="18">~13041</text></svg>
<rect x="1098" y="882" width="20" height="19" fill="#aec7e8" shape-rendering="crispEdges"/>
<svg x="1017" y="903" width="76" height="19"><text class="b" x="0" y="18"> 13042</text></svg>
<rect x="1098" y="901" width="20" height="19" fill="#ff7f0e" shape-rendering="crispEdges"/>
<svg x="1017" y="922" width="76" height="19"><text class="b" x="0" y="18">)13049</text></svg>
<rect x="1098" y="920" width="20" height="19" fill="#c5b0d5" shape-rendering="crispEdges"/>
<svg x="1017" y="941" width="76" height="19"><text class="b" x="0" y="18">~13059</text></svg>
<rect x="1098" y="939" width="20" height="19" fill="#ff7f0e" shape-rendering="crispEdges"/>
<svg x="1017" y="960" width="76" height="19"><text class="b" x="0" y="18">(13060</text></svg>
<rect x="1098" y="958" width="20" height="19" fill="#ffbb78" shape-rendering="crispEdges"/>
<svg x="1017" y="979" width="76" height="19"><text class="b" x="0" y="18">(13062</text></svg>
<rect x="1098" y="977" width="20" height="19" fill="#98df8a" shape-rendering="crispEdges"/>
<svg x="1017" y="998" width="76" height="19"><text class="b" x="0" y="18">(13064</text></svg>
<rect x="1098" y="996" width="20" height="19" fill="#ff9896" shape-rendering="crispEdges"/>
<svg x="933" y="920" width="64" height="19"><text class="b y" x="0" y="18">14056</text></svg>
<svg x="933" y="939" width="64" height="19"><text class="b y" x="0" y="18">14054</text></svg>
<svg x="933" y="958" width="64" height="19"><text class="b y" x="0" y="18">14048</text></svg>
<svg x="933" y="977" width="64" height="19"><text class="b y" x="0" y="18">14049</text></svg>
<svg x="933" y="996" width="64" height="19"><text class="b y" x="0" y="18">14053</text></svg>
</g>
</svg>
</body></html>
